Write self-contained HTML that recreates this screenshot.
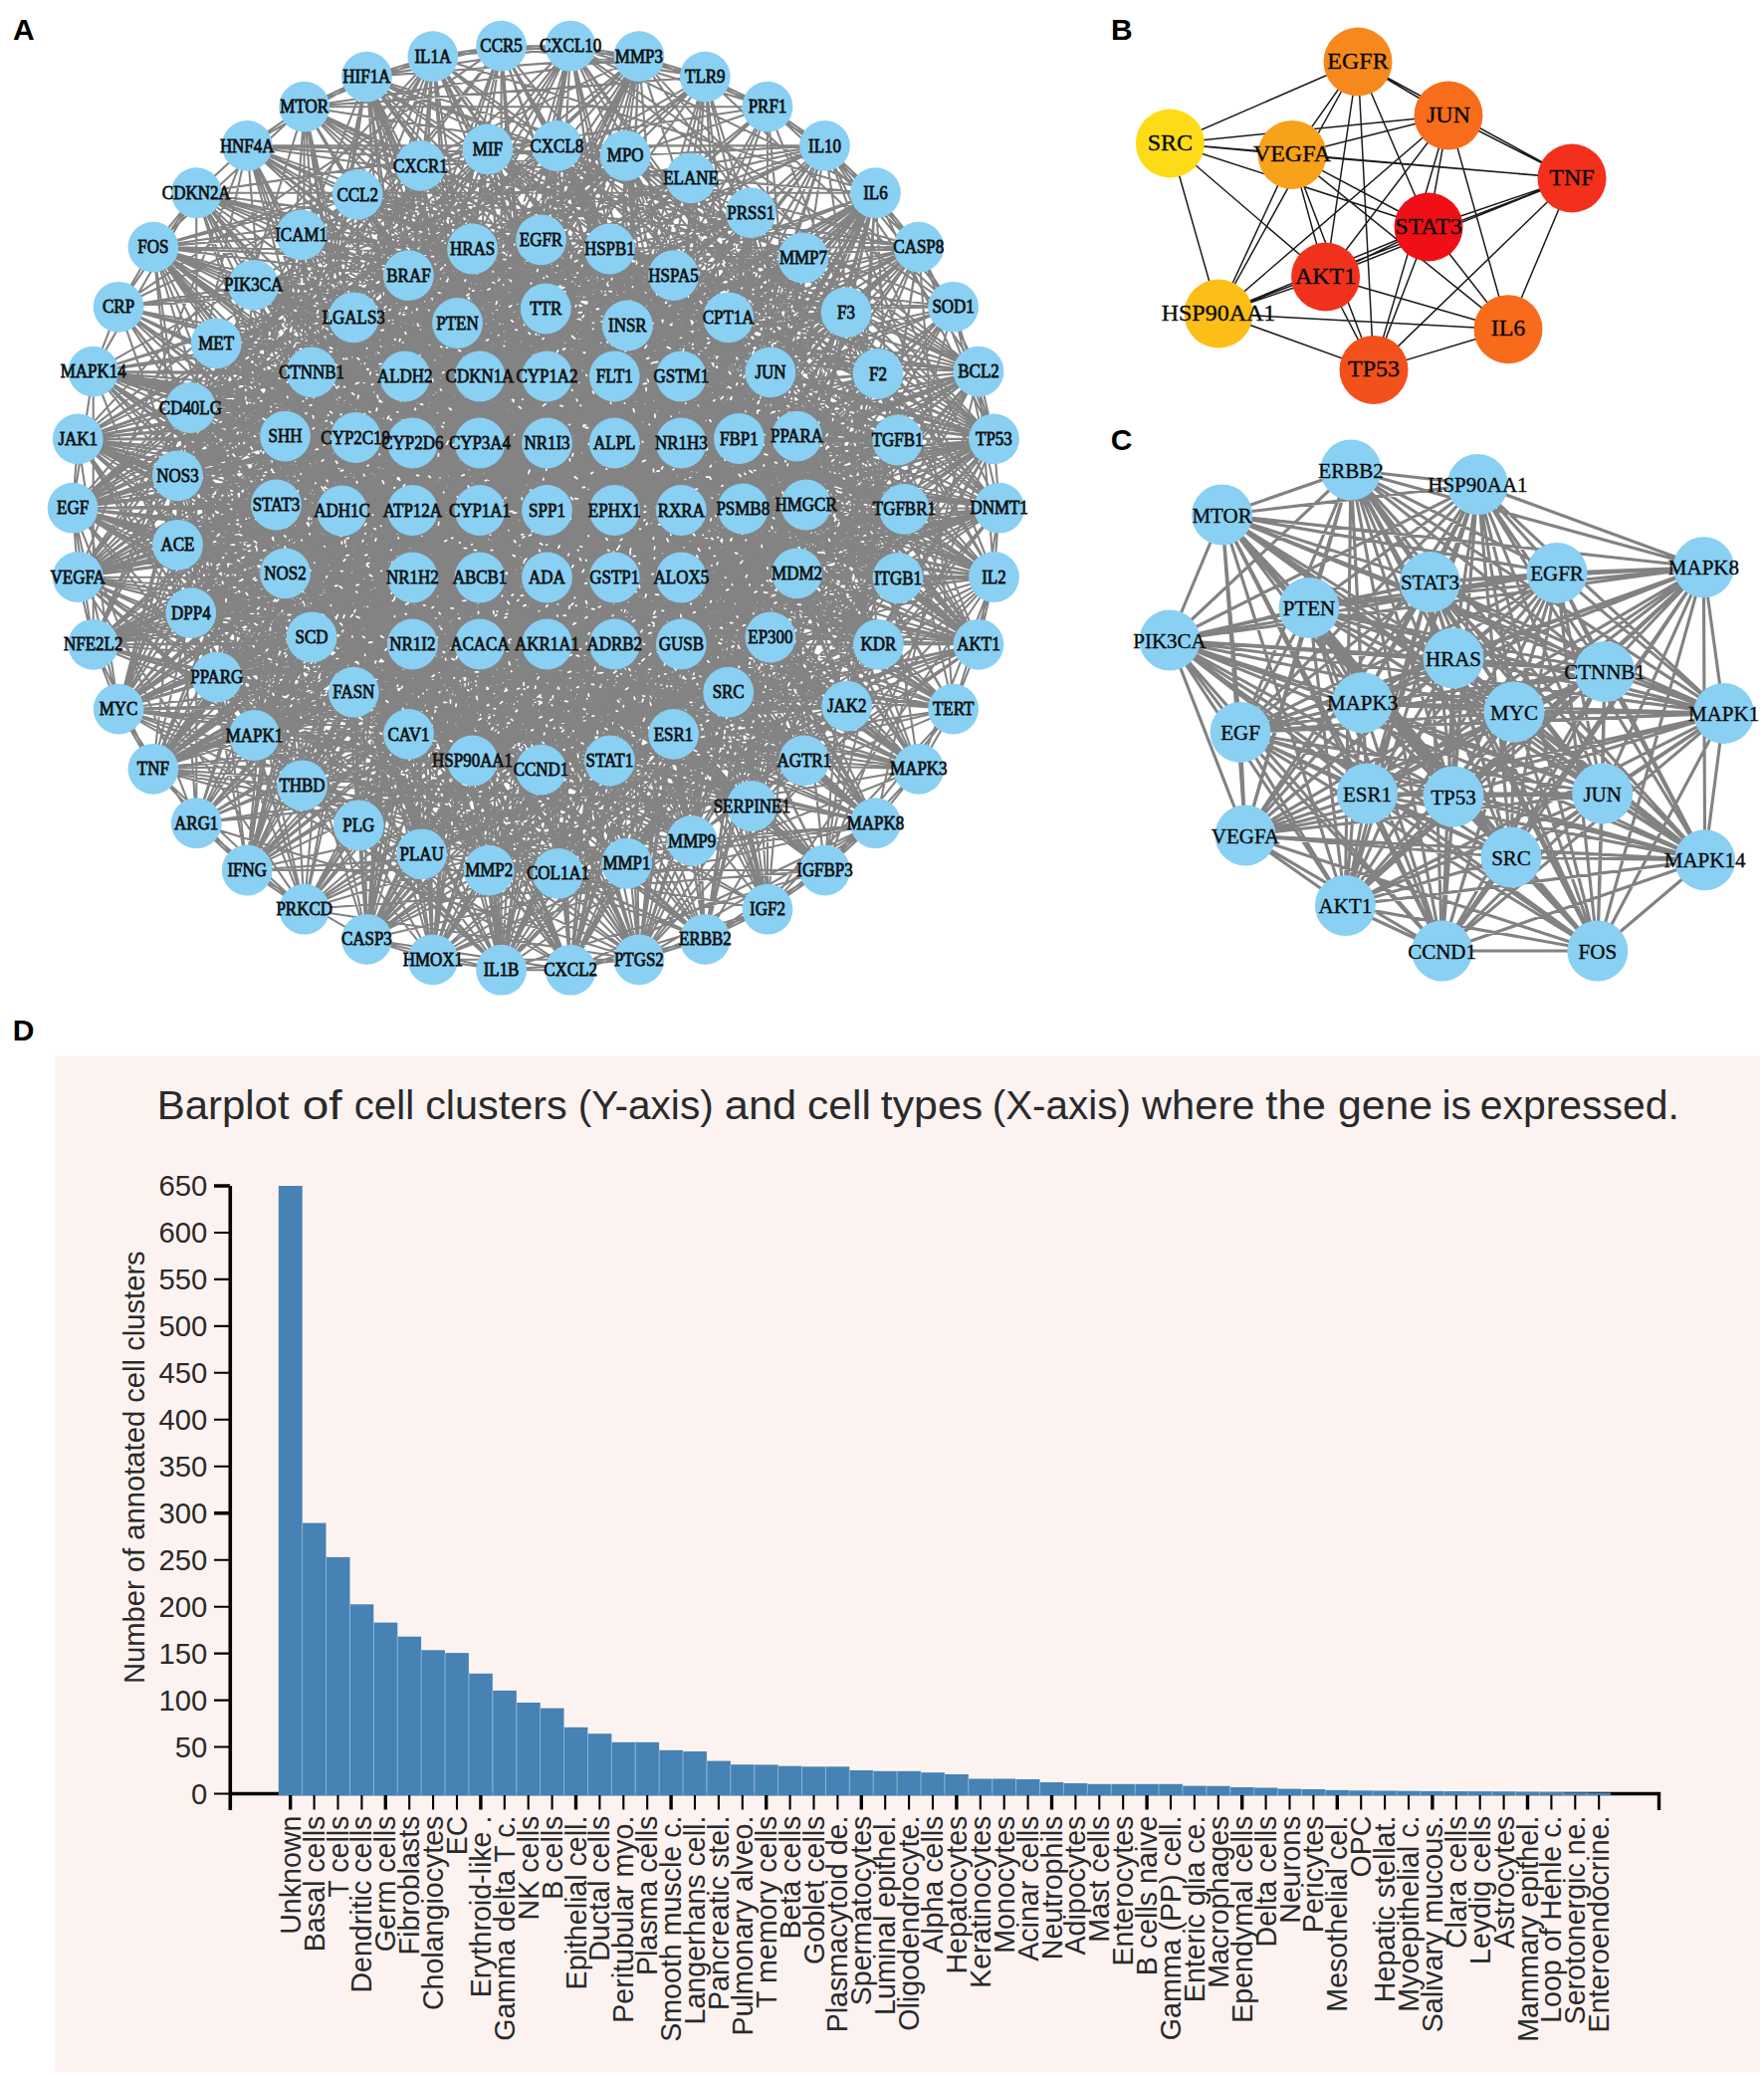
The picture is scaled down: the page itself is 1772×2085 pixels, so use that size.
<!DOCTYPE html>
<html><head><meta charset="utf-8"><title>Figure</title>
<style>html,body{margin:0;padding:0;background:#fff;overflow:hidden;width:1772px;height:2085px;}svg{display:block;}.pl{font-family:"Liberation Sans",Arial,sans-serif;font-weight:bold;font-size:30px;fill:#000;}.la{font-family:"Liberation Serif","Times New Roman",serif;font-size:19.5px;fill:#111;stroke:#111;stroke-width:0.8px;}.lb{font-family:"Liberation Serif","Times New Roman",serif;font-size:24px;fill:#0a0a0a;stroke:#0a0a0a;stroke-width:0.35px;}.lc{font-family:"Liberation Serif","Times New Roman",serif;font-size:21px;fill:#0a0a0a;stroke:#0a0a0a;stroke-width:0.35px;}.dt{font-family:"Liberation Sans",Arial,sans-serif;fill:#2a2a2a;}</style></head><body>
<svg width="1772" height="2085" viewBox="0 0 1772 2085">
<rect width="1772" height="2085" fill="#fff"/>
<text class="pl" x="13" y="40">A</text>
<text class="pl" x="1116" y="40">B</text>
<text class="pl" x="1115.8" y="452.4">C</text>
<text class="pl" x="12.7" y="1045">D</text>
<path fill="none" stroke="#838383" stroke-width="2.1" d="M73.1 510.2L78.2 440.9M73.1 510.2L93.7 373.1M73.1 510.2L573.1 46.2M73.1 510.2L641.9 56.6M73.1 510.2L828.5 146.4M73.1 510.2L922.8 772.3M73.1 510.2L771 913.2M73.1 510.2L503.6 974.2M73.1 510.2L197.3 826.7M73.1 510.2L119.1 712.1M73.1 510.2L93.7 647.3M73.1 510.2L78.2 579.5M73.1 510.2L850.7 709.1M73.1 510.2L807.8 763.9M73.1 510.2L695.1 844.4M73.1 510.2L303.5 788.8M73.1 510.2L178.5 547.3M73.1 510.2L178.4 477.8M73.1 510.2L191.4 409.5M73.1 510.2L217.2 344.8M73.1 510.2L489.9 149.9M73.1 510.2L559.4 146.5M73.1 510.2L628.2 156.3M73.1 510.2L754.3 213.6M73.1 510.2L806.9 259M73.1 510.2L809.6 507M73.1 510.2L800.5 575.9M73.1 510.2L676.6 737.4M73.1 510.2L612.4 764M73.1 510.2L474.6 764M73.1 510.2L286.5 575.9M73.1 510.2L277.4 507M73.1 510.2L286.5 438.1M73.1 510.2L313.1 373.9M73.1 510.2L474.6 250M73.1 510.2L612.4 250M73.1 510.2L746.3 511M73.1 510.2L459.5 324.5M73.1 510.2L630.3 327M73.1 510.2L549.5 378M73.1 510.2L684.3 378M73.1 510.2L482 445M73.1 510.2L549.5 445M73.1 510.2L617.3 445M73.1 510.2L482 512.5M73.1 510.2L617.3 512.5M73.1 510.2L684.3 512.5M73.1 510.2L617.3 580M73.1 510.2L684.3 580M73.1 510.2L549.5 647M73.1 510.2L617.3 647M78.2 440.9L434.8 56.6M78.2 440.9L708.3 77.1M78.2 440.9L708.3 943.3M78.2 440.9L119.1 712.1M78.2 440.9L882.4 647.3M78.2 440.9L850.7 709.1M78.2 440.9L807.8 763.9M78.2 440.9L755.3 809.5M78.2 440.9L560.6 877.3M78.2 440.9L360.3 829M78.2 440.9L303.5 788.8M78.2 440.9L255.5 738.5M78.2 440.9L191.8 615.6M78.2 440.9L422.4 166.4M78.2 440.9L559.4 146.5M78.2 440.9L754.3 213.6M78.2 440.9L850 313.6M78.2 440.9L882 375.4M78.2 440.9L809.6 507M78.2 440.9L800.5 575.9M78.2 440.9L773.9 640M78.2 440.9L676.6 737.4M78.2 440.9L410.5 737.4M78.2 440.9L286.5 575.9M78.2 440.9L410.4 276.6M78.2 440.9L612.4 250M78.2 440.9L731.7 318.8M78.2 440.9L773.9 373.9M78.2 440.9L800.5 438.1M78.2 440.9L357.2 439.5M78.2 440.9L548.2 310M78.2 440.9L549.5 445M78.2 440.9L617.3 512.5M78.2 440.9L414.4 580M78.2 440.9L482 647M78.2 440.9L617.3 647M93.7 373.1L119.1 308.3M93.7 373.1L197.3 193.7M93.7 373.1L1003.7 510.2M93.7 373.1L998.5 579.5M93.7 373.1L708.3 943.3M93.7 373.1L305.7 913.2M93.7 373.1L93.7 647.3M93.7 373.1L908.4 511.3M93.7 373.1L755.3 809.5M93.7 373.1L629.5 867.2M93.7 373.1L489.9 149.9M93.7 373.1L694 178.9M93.7 373.1L901.7 442M93.7 373.1L809.6 507M93.7 373.1L800.5 575.9M93.7 373.1L676.6 737.4M93.7 373.1L612.4 764M93.7 373.1L474.6 764M93.7 373.1L355.3 695.2M93.7 373.1L277.4 507M93.7 373.1L286.5 438.1M93.7 373.1L313.1 373.9M93.7 373.1L410.4 276.6M93.7 373.1L676.6 276.6M93.7 373.1L357.2 439.5M93.7 373.1L746.3 511M93.7 373.1L459.5 324.5M93.7 373.1L406.7 378M93.7 373.1L617.3 378M93.7 373.1L414.4 445M93.7 373.1L482 445M93.7 373.1L617.3 445M93.7 373.1L482 512.5M93.7 373.1L617.3 512.5M93.7 373.1L549.5 580M119.1 308.3L153.9 248.1M119.1 308.3L197.3 193.7M119.1 308.3L503.6 46.2M119.1 308.3L641.9 56.6M119.1 308.3L922.8 248.1M119.1 308.3L695.1 844.4M119.1 308.3L560.6 877.3M119.1 308.3L491.2 874.1M119.1 308.3L178.4 477.8M119.1 308.3L773.9 640M119.1 308.3L676.6 737.4M119.1 308.3L474.6 764M119.1 308.3L277.4 507M119.1 308.3L474.6 250M119.1 308.3L612.4 250M119.1 308.3L800.5 438.1M119.1 308.3L414.4 445M119.1 308.3L617.3 445M119.1 308.3L684.3 445M119.1 308.3L414.4 512.5M119.1 308.3L549.5 512.5M119.1 308.3L549.5 647M153.9 248.1L197.3 193.7M153.9 248.1L305.7 107.2M153.9 248.1L828.5 146.4M153.9 248.1L708.3 943.3M153.9 248.1L641.9 963.8M153.9 248.1L368.4 943.3M153.9 248.1L908.4 511.3M153.9 248.1L901.9 580.5M153.9 248.1L807.8 763.9M153.9 248.1L217.8 680.1M153.9 248.1L191.8 615.6M153.9 248.1L302.6 235.9M153.9 248.1L359.1 195.4M153.9 248.1L489.9 149.9M153.9 248.1L806.9 259M153.9 248.1L773.9 640M153.9 248.1L612.4 764M153.9 248.1L543.5 773.1M153.9 248.1L410.5 737.4M153.9 248.1L286.5 575.9M153.9 248.1L676.6 276.6M153.9 248.1L731.7 318.8M153.9 248.1L482 378M153.9 248.1L549.5 378M153.9 248.1L617.3 378M153.9 248.1L414.4 445M153.9 248.1L414.4 512.5M153.9 248.1L684.3 512.5M153.9 248.1L549.5 580M153.9 248.1L617.3 580M153.9 248.1L482 647M197.3 193.7L248.2 146.4M197.3 193.7L771 107.2M197.3 193.7L879.4 193.7M197.3 193.7L983 373.1M197.3 193.7L998.5 440.9M197.3 193.7L771 913.2M197.3 193.7L641.9 963.8M197.3 193.7L573.1 974.2M197.3 193.7L197.3 826.7M197.3 193.7L755.3 809.5M197.3 193.7L629.5 867.2M197.3 193.7L489.9 149.9M197.3 193.7L882 375.4M197.3 193.7L355.3 695.2M197.3 193.7L286.5 438.1M197.3 193.7L543.5 240.9M197.3 193.7L549.5 378M197.3 193.7L617.3 378M197.3 193.7L684.3 378M197.3 193.7L414.4 445M197.3 193.7L549.5 445M197.3 193.7L684.3 647M248.2 146.4L305.7 107.2M248.2 146.4L368.4 77.1M248.2 146.4L828.5 146.4M248.2 146.4L922.8 248.1M248.2 146.4L922.8 772.3M248.2 146.4L641.9 963.8M248.2 146.4L573.1 974.2M248.2 146.4L78.2 579.5M248.2 146.4L901.9 580.5M248.2 146.4L629.5 867.2M248.2 146.4L491.2 874.1M248.2 146.4L303.5 788.8M248.2 146.4L191.4 409.5M248.2 146.4L628.2 156.3M248.2 146.4L694 178.9M248.2 146.4L882 375.4M248.2 146.4L800.5 575.9M248.2 146.4L543.5 773.1M248.2 146.4L410.5 737.4M248.2 146.4L773.9 373.9M248.2 146.4L742.4 440.5M248.2 146.4L630.3 327M248.2 146.4L617.3 445M305.7 107.2L368.4 77.1M305.7 107.2L434.8 56.6M305.7 107.2L641.9 56.6M305.7 107.2L708.3 77.1M305.7 107.2L771 107.2M305.7 107.2L503.6 974.2M305.7 107.2L434.8 963.8M305.7 107.2L368.4 943.3M305.7 107.2L119.1 712.1M305.7 107.2L303.5 788.8M305.7 107.2L359.1 195.4M305.7 107.2L559.4 146.5M305.7 107.2L901.7 442M305.7 107.2L410.5 737.4M305.7 107.2L277.4 507M305.7 107.2L410.4 276.6M305.7 107.2L676.6 276.6M305.7 107.2L731.7 318.8M305.7 107.2L773.9 373.9M305.7 107.2L800.5 438.1M305.7 107.2L746.3 511M305.7 107.2L742.4 440.5M305.7 107.2L549.5 512.5M305.7 107.2L684.3 512.5M305.7 107.2L414.4 647M305.7 107.2L617.3 647M368.4 77.1L434.8 56.6M368.4 77.1L503.6 46.2M368.4 77.1L573.1 46.2M368.4 77.1L641.9 56.6M368.4 77.1L957.6 308.3M368.4 77.1L983 373.1M368.4 77.1L641.9 963.8M368.4 77.1L503.6 974.2M368.4 77.1L248.2 874M368.4 77.1L119.1 712.1M368.4 77.1L850.7 709.1M368.4 77.1L695.1 844.4M368.4 77.1L423.6 857.8M368.4 77.1L255.5 738.5M368.4 77.1L628.2 156.3M368.4 77.1L806.9 259M368.4 77.1L809.6 507M368.4 77.1L612.4 764M368.4 77.1L543.5 773.1M368.4 77.1L277.4 507M368.4 77.1L731.7 318.8M368.4 77.1L773.9 373.9M368.4 77.1L548.2 310M368.4 77.1L482 378M368.4 77.1L414.4 445M368.4 77.1L549.5 445M368.4 77.1L684.3 445M368.4 77.1L549.5 512.5M368.4 77.1L684.3 512.5M368.4 77.1L482 580M368.4 77.1L617.3 647M434.8 56.6L503.6 46.2M434.8 56.6L573.1 46.2M434.8 56.6L879.4 193.7M434.8 56.6L1003.7 510.2M434.8 56.6L922.8 772.3M434.8 56.6L828.5 874M434.8 56.6L503.6 974.2M434.8 56.6L153.9 772.3M434.8 56.6L807.8 763.9M434.8 56.6L360.3 829M434.8 56.6L255.5 738.5M434.8 56.6L178.4 477.8M434.8 56.6L302.6 235.9M434.8 56.6L359.1 195.4M434.8 56.6L559.4 146.5M434.8 56.6L800.5 575.9M434.8 56.6L543.5 773.1M434.8 56.6L343.5 513M434.8 56.6L742.4 440.5M434.8 56.6L406.7 378M434.8 56.6L414.4 445M434.8 56.6L617.3 445M434.8 56.6L482 512.5M434.8 56.6L617.3 512.5M503.6 46.2L573.1 46.2M503.6 46.2L641.9 56.6M503.6 46.2L708.3 77.1M503.6 46.2L983 647.3M503.6 46.2L922.8 772.3M503.6 46.2L573.1 974.2M503.6 46.2L503.6 974.2M503.6 46.2L78.2 579.5M503.6 46.2L178.4 477.8M503.6 46.2L731.7 695.2M503.6 46.2L543.5 773.1M503.6 46.2L313.1 640M503.6 46.2L357.2 439.5M503.6 46.2L746.3 511M503.6 46.2L617.3 378M503.6 46.2L684.3 378M503.6 46.2L414.4 445M503.6 46.2L549.5 580M503.6 46.2L414.4 647M573.1 46.2L641.9 56.6M573.1 46.2L708.3 77.1M573.1 46.2L771 107.2M573.1 46.2L879.4 193.7M573.1 46.2L957.6 308.3M573.1 46.2L983 373.1M573.1 46.2L983 647.3M573.1 46.2L957.6 712.1M573.1 46.2L434.8 963.8M573.1 46.2L368.4 943.3M573.1 46.2L153.9 772.3M573.1 46.2L908.4 511.3M573.1 46.2L695.1 844.4M573.1 46.2L423.6 857.8M573.1 46.2L191.8 615.6M573.1 46.2L731.7 695.2M573.1 46.2L676.6 737.4M573.1 46.2L313.1 373.9M573.1 46.2L474.6 250M573.1 46.2L543.5 240.9M573.1 46.2L676.6 276.6M573.1 46.2L630.3 327M573.1 46.2L482 445M573.1 46.2L549.5 512.5M573.1 46.2L414.4 580M573.1 46.2L482 580M641.9 56.6L708.3 77.1M641.9 56.6L771 107.2M641.9 56.6L998.5 440.9M641.9 56.6L197.3 826.7M641.9 56.6L153.9 772.3M641.9 56.6L850.7 709.1M641.9 56.6L628.2 156.3M641.9 56.6L754.3 213.6M641.9 56.6L355.3 695.2M641.9 56.6L355.3 318.8M641.9 56.6L410.4 276.6M641.9 56.6L474.6 250M641.9 56.6L543.5 240.9M641.9 56.6L548.2 310M641.9 56.6L482 378M641.9 56.6L549.5 512.5M641.9 56.6L414.4 580M641.9 56.6L617.3 580M641.9 56.6L684.3 580M641.9 56.6L482 647M641.9 56.6L617.3 647M708.3 77.1L771 107.2M708.3 77.1L828.5 146.4M708.3 77.1L957.6 308.3M708.3 77.1L503.6 974.2M708.3 77.1L882.4 647.3M708.3 77.1L755.3 809.5M708.3 77.1L178.4 477.8M708.3 77.1L694 178.9M708.3 77.1L809.6 507M708.3 77.1L773.9 640M708.3 77.1L313.1 640M708.3 77.1L277.4 507M708.3 77.1L286.5 438.1M708.3 77.1L630.3 327M708.3 77.1L684.3 445M771 107.2L828.5 146.4M771 107.2L879.4 193.7M771 107.2L922.8 248.1M771 107.2L983 647.3M771 107.2L771 913.2M771 107.2L360.3 829M771 107.2L254.7 286.3M771 107.2L694 178.9M771 107.2L800.5 438.1M771 107.2L357.2 439.5M771 107.2L548.2 310M771 107.2L617.3 445M771 107.2L617.3 580M828.5 146.4L879.4 193.7M828.5 146.4L922.8 248.1M828.5 146.4L957.6 308.3M828.5 146.4L983 373.1M828.5 146.4L1003.7 510.2M828.5 146.4L998.5 579.5M828.5 146.4L922.8 772.3M828.5 146.4L708.3 943.3M828.5 146.4L573.1 974.2M828.5 146.4L248.2 874M828.5 146.4L491.2 874.1M828.5 146.4L254.7 286.3M828.5 146.4L422.4 166.4M828.5 146.4L559.4 146.5M828.5 146.4L474.6 764M828.5 146.4L313.1 373.9M828.5 146.4L355.3 318.8M828.5 146.4L612.4 250M828.5 146.4L676.6 276.6M828.5 146.4L459.5 324.5M828.5 146.4L482 512.5M828.5 146.4L549.5 512.5M828.5 146.4L617.3 512.5M828.5 146.4L414.4 580M828.5 146.4L684.3 580M879.4 193.7L922.8 248.1M879.4 193.7L957.6 308.3M879.4 193.7L998.5 440.9M879.4 193.7L828.5 874M879.4 193.7L708.3 943.3M879.4 193.7L641.9 963.8M879.4 193.7L503.6 974.2M879.4 193.7L305.7 913.2M879.4 193.7L248.2 874M879.4 193.7L197.3 826.7M879.4 193.7L93.7 647.3M879.4 193.7L901.9 580.5M879.4 193.7L850.7 709.1M879.4 193.7L695.1 844.4M879.4 193.7L491.2 874.1M879.4 193.7L423.6 857.8M879.4 193.7L217.8 680.1M879.4 193.7L694 178.9M879.4 193.7L809.6 507M879.4 193.7L773.9 640M879.4 193.7L612.4 764M879.4 193.7L355.3 695.2M879.4 193.7L731.7 318.8M879.4 193.7L773.9 373.9M879.4 193.7L746.3 511M879.4 193.7L548.2 310M879.4 193.7L406.7 378M879.4 193.7L549.5 378M879.4 193.7L617.3 378M879.4 193.7L414.4 445M879.4 193.7L482 445M879.4 193.7L684.3 512.5M879.4 193.7L684.3 580M879.4 193.7L414.4 647M879.4 193.7L482 647M879.4 193.7L617.3 647M922.8 248.1L983 373.1M922.8 248.1L998.5 440.9M922.8 248.1L957.6 712.1M922.8 248.1L828.5 874M922.8 248.1L573.1 974.2M922.8 248.1L434.8 963.8M922.8 248.1L850.7 709.1M922.8 248.1L695.1 844.4M922.8 248.1L491.2 874.1M922.8 248.1L191.8 615.6M922.8 248.1L359.1 195.4M922.8 248.1L559.4 146.5M922.8 248.1L286.5 575.9M922.8 248.1L313.1 373.9M922.8 248.1L474.6 250M922.8 248.1L731.7 318.8M922.8 248.1L630.3 327M922.8 248.1L482 445M922.8 248.1L684.3 445M922.8 248.1L414.4 580M922.8 248.1L549.5 580M922.8 248.1L617.3 580M922.8 248.1L414.4 647M922.8 248.1L482 647M922.8 248.1L617.3 647M957.6 308.3L998.5 440.9M957.6 308.3L1003.7 510.2M957.6 308.3L850.7 709.1M957.6 308.3L560.6 877.3M957.6 308.3L254.7 286.3M957.6 308.3L731.7 695.2M957.6 308.3L355.3 318.8M957.6 308.3L474.6 250M957.6 308.3L800.5 438.1M957.6 308.3L357.2 439.5M957.6 308.3L746.3 511M957.6 308.3L549.5 445M957.6 308.3L617.3 445M957.6 308.3L684.3 580M957.6 308.3L684.3 647M983 373.1L998.5 440.9M983 373.1L998.5 579.5M983 373.1L879.4 826.7M983 373.1L119.1 712.1M983 373.1L755.3 809.5M983 373.1L695.1 844.4M983 373.1L629.5 867.2M983 373.1L560.6 877.3M983 373.1L217.2 344.8M983 373.1L489.9 149.9M983 373.1L559.4 146.5M983 373.1L628.2 156.3M983 373.1L754.3 213.6M983 373.1L809.6 507M983 373.1L800.5 575.9M983 373.1L355.3 695.2M983 373.1L313.1 640M983 373.1L286.5 438.1M983 373.1L612.4 250M983 373.1L800.5 438.1M983 373.1L343.5 513M983 373.1L746.3 511M983 373.1L459.5 324.5M983 373.1L630.3 327M983 373.1L482 512.5M983 373.1L617.3 512.5M983 373.1L482 580M983 373.1L549.5 647M983 373.1L617.3 647M998.5 440.9L1003.7 510.2M998.5 440.9L828.5 874M998.5 440.9L708.3 943.3M998.5 440.9L503.6 974.2M998.5 440.9L305.7 913.2M998.5 440.9L882.4 647.3M998.5 440.9L807.8 763.9M998.5 440.9L695.1 844.4M998.5 440.9L629.5 867.2M998.5 440.9L360.3 829M998.5 440.9L303.5 788.8M998.5 440.9L217.2 344.8M998.5 440.9L302.6 235.9M998.5 440.9L422.4 166.4M998.5 440.9L489.9 149.9M998.5 440.9L559.4 146.5M998.5 440.9L628.2 156.3M998.5 440.9L694 178.9M998.5 440.9L806.9 259M998.5 440.9L800.5 575.9M998.5 440.9L612.4 764M998.5 440.9L543.5 773.1M998.5 440.9L474.6 764M998.5 440.9L410.5 737.4M998.5 440.9L313.1 640M998.5 440.9L277.4 507M998.5 440.9L286.5 438.1M998.5 440.9L410.4 276.6M998.5 440.9L474.6 250M998.5 440.9L731.7 318.8M998.5 440.9L773.9 373.9M998.5 440.9L746.3 511M998.5 440.9L459.5 324.5M998.5 440.9L482 378M998.5 440.9L549.5 378M998.5 440.9L482 512.5M998.5 440.9L617.3 512.5M998.5 440.9L684.3 512.5M998.5 440.9L414.4 580M998.5 440.9L617.3 580M998.5 440.9L684.3 580M1003.7 510.2L998.5 579.5M1003.7 510.2L983 647.3M1003.7 510.2L641.9 963.8M1003.7 510.2L305.7 913.2M1003.7 510.2L248.2 874M1003.7 510.2L93.7 647.3M1003.7 510.2L882.4 647.3M1003.7 510.2L302.6 235.9M1003.7 510.2L489.9 149.9M1003.7 510.2L628.2 156.3M1003.7 510.2L694 178.9M1003.7 510.2L806.9 259M1003.7 510.2L882 375.4M1003.7 510.2L800.5 575.9M1003.7 510.2L731.7 695.2M1003.7 510.2L474.6 764M1003.7 510.2L410.5 737.4M1003.7 510.2L355.3 695.2M1003.7 510.2L286.5 575.9M1003.7 510.2L742.4 440.5M1003.7 510.2L630.3 327M1003.7 510.2L414.4 445M1003.7 510.2L549.5 445M1003.7 510.2L617.3 445M1003.7 510.2L684.3 445M1003.7 510.2L482 512.5M1003.7 510.2L549.5 580M1003.7 510.2L684.3 580M1003.7 510.2L414.4 647M1003.7 510.2L482 647M1003.7 510.2L617.3 647M998.5 579.5L983 647.3M998.5 579.5L957.6 712.1M998.5 579.5L922.8 772.3M998.5 579.5L771 913.2M998.5 579.5L641.9 963.8M998.5 579.5L901.9 580.5M998.5 579.5L850.7 709.1M998.5 579.5L560.6 877.3M998.5 579.5L303.5 788.8M998.5 579.5L217.8 680.1M998.5 579.5L191.8 615.6M998.5 579.5L359.1 195.4M998.5 579.5L628.2 156.3M998.5 579.5L806.9 259M998.5 579.5L850 313.6M998.5 579.5L800.5 575.9M998.5 579.5L676.6 737.4M998.5 579.5L277.4 507M998.5 579.5L355.3 318.8M998.5 579.5L474.6 250M998.5 579.5L612.4 250M998.5 579.5L676.6 276.6M998.5 579.5L731.7 318.8M998.5 579.5L343.5 513M998.5 579.5L459.5 324.5M998.5 579.5L630.3 327M998.5 579.5L406.7 378M998.5 579.5L549.5 378M998.5 579.5L617.3 378M998.5 579.5L482 512.5M998.5 579.5L684.3 512.5M998.5 579.5L414.4 580M998.5 579.5L414.4 647M983 647.3L957.6 712.1M983 647.3L901.9 580.5M983 647.3L882.4 647.3M983 647.3L850.7 709.1M983 647.3L807.8 763.9M983 647.3L755.3 809.5M983 647.3L491.2 874.1M983 647.3L423.6 857.8M983 647.3L303.5 788.8M983 647.3L191.8 615.6M983 647.3L178.4 477.8M983 647.3L191.4 409.5M983 647.3L694 178.9M983 647.3L754.3 213.6M983 647.3L809.6 507M983 647.3L800.5 575.9M983 647.3L773.9 640M983 647.3L676.6 737.4M983 647.3L612.4 764M983 647.3L474.6 764M983 647.3L286.5 575.9M983 647.3L277.4 507M983 647.3L313.1 373.9M983 647.3L410.4 276.6M983 647.3L474.6 250M983 647.3L543.5 240.9M983 647.3L612.4 250M983 647.3L676.6 276.6M983 647.3L800.5 438.1M983 647.3L742.4 440.5M983 647.3L459.5 324.5M983 647.3L406.7 378M983 647.3L549.5 378M983 647.3L617.3 378M983 647.3L482 445M983 647.3L549.5 445M983 647.3L414.4 512.5M983 647.3L549.5 580M983 647.3L684.3 580M983 647.3L414.4 647M983 647.3L617.3 647M983 647.3L684.3 647M957.6 712.1L922.8 772.3M957.6 712.1L828.5 874M957.6 712.1L771 913.2M957.6 712.1L248.2 874M957.6 712.1L197.3 826.7M957.6 712.1L78.2 579.5M957.6 712.1L882.4 647.3M957.6 712.1L560.6 877.3M957.6 712.1L178.5 547.3M957.6 712.1L628.2 156.3M957.6 712.1L882 375.4M957.6 712.1L773.9 640M957.6 712.1L731.7 695.2M957.6 712.1L612.4 764M957.6 712.1L355.3 318.8M957.6 712.1L548.2 310M957.6 712.1L482 378M957.6 712.1L549.5 378M957.6 712.1L482 445M957.6 712.1L617.3 512.5M957.6 712.1L549.5 580M957.6 712.1L482 647M957.6 712.1L549.5 647M922.8 772.3L879.4 826.7M922.8 772.3L828.5 874M922.8 772.3L434.8 963.8M922.8 772.3L119.1 712.1M922.8 772.3L423.6 857.8M922.8 772.3L191.8 615.6M922.8 772.3L178.5 547.3M922.8 772.3L559.4 146.5M922.8 772.3L628.2 156.3M922.8 772.3L676.6 737.4M922.8 772.3L612.4 764M922.8 772.3L286.5 575.9M922.8 772.3L286.5 438.1M922.8 772.3L800.5 438.1M922.8 772.3L343.5 513M922.8 772.3L630.3 327M922.8 772.3L549.5 378M922.8 772.3L482 445M922.8 772.3L617.3 445M922.8 772.3L414.4 512.5M922.8 772.3L549.5 512.5M922.8 772.3L617.3 512.5M922.8 772.3L482 580M922.8 772.3L549.5 580M922.8 772.3L684.3 580M922.8 772.3L414.4 647M879.4 826.7L828.5 874M879.4 826.7L771 913.2M879.4 826.7L708.3 943.3M879.4 826.7L641.9 963.8M879.4 826.7L573.1 974.2M879.4 826.7L368.4 943.3M879.4 826.7L93.7 647.3M879.4 826.7L695.1 844.4M879.4 826.7L629.5 867.2M879.4 826.7L491.2 874.1M879.4 826.7L178.5 547.3M879.4 826.7L178.4 477.8M879.4 826.7L217.2 344.8M879.4 826.7L254.7 286.3M879.4 826.7L489.9 149.9M879.4 826.7L559.4 146.5M879.4 826.7L676.6 737.4M879.4 826.7L410.5 737.4M879.4 826.7L355.3 695.2M879.4 826.7L474.6 250M879.4 826.7L459.5 324.5M879.4 826.7L406.7 378M879.4 826.7L549.5 378M879.4 826.7L617.3 378M879.4 826.7L414.4 445M879.4 826.7L482 512.5M879.4 826.7L684.3 512.5M879.4 826.7L617.3 580M879.4 826.7L684.3 647M828.5 874L771 913.2M828.5 874L708.3 943.3M828.5 874L503.6 974.2M828.5 874L305.7 913.2M828.5 874L248.2 874M828.5 874L882.4 647.3M828.5 874L191.4 409.5M828.5 874L217.2 344.8M828.5 874L754.3 213.6M828.5 874L676.6 737.4M828.5 874L286.5 438.1M828.5 874L355.3 318.8M828.5 874L410.4 276.6M828.5 874L773.9 373.9M828.5 874L357.2 439.5M828.5 874L414.4 445M828.5 874L617.3 445M828.5 874L482 580M828.5 874L617.3 580M828.5 874L549.5 647M771 913.2L708.3 943.3M771 913.2L641.9 963.8M771 913.2L573.1 974.2M771 913.2L755.3 809.5M771 913.2L423.6 857.8M771 913.2L559.4 146.5M771 913.2L800.5 575.9M771 913.2L676.6 737.4M771 913.2L474.6 764M771 913.2L474.6 250M771 913.2L543.5 240.9M771 913.2L612.4 250M771 913.2L742.4 440.5M771 913.2L630.3 327M771 913.2L617.3 512.5M771 913.2L684.3 512.5M708.3 943.3L641.9 963.8M708.3 943.3L573.1 974.2M708.3 943.3L560.6 877.3M708.3 943.3L303.5 788.8M708.3 943.3L255.5 738.5M708.3 943.3L178.5 547.3M708.3 943.3L628.2 156.3M708.3 943.3L806.9 259M708.3 943.3L800.5 575.9M708.3 943.3L676.6 737.4M708.3 943.3L286.5 575.9M708.3 943.3L355.3 318.8M708.3 943.3L410.4 276.6M708.3 943.3L474.6 250M708.3 943.3L800.5 438.1M708.3 943.3L357.2 439.5M708.3 943.3L617.3 378M708.3 943.3L684.3 445M641.9 963.8L503.6 974.2M641.9 963.8L434.8 963.8M641.9 963.8L305.7 913.2M641.9 963.8L197.3 826.7M641.9 963.8L119.1 712.1M641.9 963.8L78.2 579.5M641.9 963.8L901.9 580.5M641.9 963.8L191.8 615.6M641.9 963.8L217.2 344.8M641.9 963.8L559.4 146.5M641.9 963.8L628.2 156.3M641.9 963.8L754.3 213.6M641.9 963.8L882 375.4M641.9 963.8L901.7 442M641.9 963.8L731.7 695.2M641.9 963.8L676.6 737.4M641.9 963.8L313.1 640M641.9 963.8L277.4 507M641.9 963.8L286.5 438.1M641.9 963.8L410.4 276.6M641.9 963.8L731.7 318.8M641.9 963.8L343.5 513M641.9 963.8L746.3 511M641.9 963.8L414.4 445M641.9 963.8L549.5 512.5M641.9 963.8L617.3 512.5M641.9 963.8L684.3 512.5M641.9 963.8L684.3 580M641.9 963.8L482 647M641.9 963.8L549.5 647M573.1 974.2L503.6 974.2M573.1 974.2L368.4 943.3M573.1 974.2L119.1 712.1M573.1 974.2L629.5 867.2M573.1 974.2L360.3 829M573.1 974.2L178.4 477.8M573.1 974.2L489.9 149.9M573.1 974.2L754.3 213.6M573.1 974.2L800.5 575.9M573.1 974.2L410.5 737.4M573.1 974.2L355.3 695.2M573.1 974.2L277.4 507M573.1 974.2L286.5 438.1M573.1 974.2L313.1 373.9M573.1 974.2L543.5 240.9M573.1 974.2L800.5 438.1M573.1 974.2L357.2 439.5M573.1 974.2L630.3 327M573.1 974.2L617.3 445M573.1 974.2L684.3 445M573.1 974.2L684.3 580M573.1 974.2L414.4 647M573.1 974.2L549.5 647M573.1 974.2L617.3 647M503.6 974.2L434.8 963.8M503.6 974.2L368.4 943.3M503.6 974.2L78.2 579.5M503.6 974.2L901.9 580.5M503.6 974.2L807.8 763.9M503.6 974.2L303.5 788.8M503.6 974.2L255.5 738.5M503.6 974.2L217.8 680.1M503.6 974.2L178.5 547.3M503.6 974.2L191.4 409.5M503.6 974.2L217.2 344.8M503.6 974.2L422.4 166.4M503.6 974.2L559.4 146.5M503.6 974.2L806.9 259M503.6 974.2L850 313.6M503.6 974.2L809.6 507M503.6 974.2L731.7 695.2M503.6 974.2L355.3 695.2M503.6 974.2L410.4 276.6M503.6 974.2L474.6 250M503.6 974.2L612.4 250M503.6 974.2L746.3 511M503.6 974.2L406.7 378M503.6 974.2L617.3 378M503.6 974.2L684.3 378M503.6 974.2L684.3 580M503.6 974.2L414.4 647M503.6 974.2L549.5 647M434.8 963.8L368.4 943.3M434.8 963.8L901.9 580.5M434.8 963.8L850.7 709.1M434.8 963.8L695.1 844.4M434.8 963.8L491.2 874.1M434.8 963.8L360.3 829M434.8 963.8L255.5 738.5M434.8 963.8L422.4 166.4M434.8 963.8L489.9 149.9M434.8 963.8L559.4 146.5M434.8 963.8L676.6 737.4M434.8 963.8L286.5 438.1M434.8 963.8L410.4 276.6M434.8 963.8L676.6 276.6M434.8 963.8L773.9 373.9M434.8 963.8L343.5 513M434.8 963.8L746.3 511M434.8 963.8L742.4 440.5M434.8 963.8L482 378M434.8 963.8L617.3 378M434.8 963.8L482 445M434.8 963.8L684.3 445M434.8 963.8L482 580M434.8 963.8L549.5 580M434.8 963.8L414.4 647M368.4 943.3L248.2 874M368.4 943.3L882.4 647.3M368.4 943.3L850.7 709.1M368.4 943.3L360.3 829M368.4 943.3L359.1 195.4M368.4 943.3L489.9 149.9M368.4 943.3L809.6 507M368.4 943.3L773.9 640M368.4 943.3L731.7 695.2M368.4 943.3L676.6 737.4M368.4 943.3L474.6 764M368.4 943.3L355.3 695.2M368.4 943.3L277.4 507M368.4 943.3L676.6 276.6M368.4 943.3L731.7 318.8M368.4 943.3L746.3 511M368.4 943.3L742.4 440.5M368.4 943.3L459.5 324.5M368.4 943.3L406.7 378M368.4 943.3L482 378M368.4 943.3L684.3 378M368.4 943.3L414.4 445M368.4 943.3L482 445M368.4 943.3L414.4 512.5M368.4 943.3L617.3 512.5M368.4 943.3L482 580M368.4 943.3L549.5 580M368.4 943.3L617.3 580M368.4 943.3L414.4 647M368.4 943.3L617.3 647M368.4 943.3L684.3 647M305.7 913.2L248.2 874M305.7 913.2L197.3 826.7M305.7 913.2L153.9 772.3M305.7 913.2L78.2 579.5M305.7 913.2L882.4 647.3M305.7 913.2L807.8 763.9M305.7 913.2L360.3 829M305.7 913.2L255.5 738.5M305.7 913.2L178.4 477.8M305.7 913.2L191.4 409.5M305.7 913.2L694 178.9M305.7 913.2L754.3 213.6M305.7 913.2L800.5 575.9M305.7 913.2L676.6 737.4M305.7 913.2L355.3 695.2M305.7 913.2L286.5 575.9M305.7 913.2L355.3 318.8M305.7 913.2L773.9 373.9M305.7 913.2L406.7 378M305.7 913.2L617.3 378M305.7 913.2L617.3 445M305.7 913.2L617.3 647M305.7 913.2L684.3 647M248.2 874L197.3 826.7M248.2 874L153.9 772.3M248.2 874L695.1 844.4M248.2 874L178.4 477.8M248.2 874L191.4 409.5M248.2 874L302.6 235.9M248.2 874L359.1 195.4M248.2 874L422.4 166.4M248.2 874L809.6 507M248.2 874L355.3 695.2M248.2 874L313.1 640M248.2 874L286.5 575.9M248.2 874L286.5 438.1M248.2 874L474.6 250M248.2 874L543.5 240.9M248.2 874L773.9 373.9M248.2 874L548.2 310M248.2 874L406.7 378M248.2 874L482 378M248.2 874L617.3 512.5M248.2 874L684.3 512.5M248.2 874L617.3 580M248.2 874L482 647M248.2 874L617.3 647M197.3 826.7L119.1 712.1M197.3 826.7L908.4 511.3M197.3 826.7L807.8 763.9M197.3 826.7L178.5 547.3M197.3 826.7L422.4 166.4M197.3 826.7L754.3 213.6M197.3 826.7L800.5 575.9M197.3 826.7L612.4 764M197.3 826.7L355.3 318.8M197.3 826.7L474.6 250M197.3 826.7L731.7 318.8M197.3 826.7L548.2 310M197.3 826.7L617.3 378M197.3 826.7L549.5 445M197.3 826.7L414.4 580M197.3 826.7L617.3 580M197.3 826.7L482 647M153.9 772.3L119.1 712.1M153.9 772.3L93.7 647.3M153.9 772.3L850.7 709.1M153.9 772.3L755.3 809.5M153.9 772.3L695.1 844.4M153.9 772.3L629.5 867.2M153.9 772.3L360.3 829M153.9 772.3L191.8 615.6M153.9 772.3L178.5 547.3M153.9 772.3L422.4 166.4M153.9 772.3L628.2 156.3M153.9 772.3L806.9 259M153.9 772.3L901.7 442M153.9 772.3L809.6 507M153.9 772.3L800.5 575.9M153.9 772.3L731.7 695.2M153.9 772.3L474.6 764M153.9 772.3L355.3 695.2M153.9 772.3L313.1 640M153.9 772.3L286.5 438.1M153.9 772.3L313.1 373.9M153.9 772.3L612.4 250M153.9 772.3L800.5 438.1M153.9 772.3L343.5 513M153.9 772.3L746.3 511M153.9 772.3L548.2 310M153.9 772.3L482 378M153.9 772.3L617.3 378M153.9 772.3L414.4 445M153.9 772.3L482 445M153.9 772.3L617.3 445M153.9 772.3L482 512.5M153.9 772.3L617.3 512.5M153.9 772.3L684.3 512.5M153.9 772.3L414.4 580M153.9 772.3L482 580M153.9 772.3L617.3 580M153.9 772.3L684.3 580M119.1 712.1L93.7 647.3M119.1 712.1L850.7 709.1M119.1 712.1L755.3 809.5M119.1 712.1L629.5 867.2M119.1 712.1L560.6 877.3M119.1 712.1L178.5 547.3M119.1 712.1L178.4 477.8M119.1 712.1L217.2 344.8M119.1 712.1L359.1 195.4M119.1 712.1L422.4 166.4M119.1 712.1L489.9 149.9M119.1 712.1L809.6 507M119.1 712.1L731.7 695.2M119.1 712.1L612.4 764M119.1 712.1L543.5 773.1M119.1 712.1L313.1 373.9M119.1 712.1L543.5 240.9M119.1 712.1L612.4 250M119.1 712.1L773.9 373.9M119.1 712.1L800.5 438.1M119.1 712.1L357.2 439.5M119.1 712.1L343.5 513M119.1 712.1L746.3 511M119.1 712.1L742.4 440.5M119.1 712.1L459.5 324.5M119.1 712.1L630.3 327M119.1 712.1L406.7 378M119.1 712.1L482 378M119.1 712.1L549.5 378M119.1 712.1L617.3 378M119.1 712.1L482 445M119.1 712.1L414.4 512.5M119.1 712.1L549.5 512.5M119.1 712.1L617.3 512.5M119.1 712.1L617.3 647M93.7 647.3L78.2 579.5M93.7 647.3L755.3 809.5M93.7 647.3L629.5 867.2M93.7 647.3L178.4 477.8M93.7 647.3L191.4 409.5M93.7 647.3L217.2 344.8M93.7 647.3L254.7 286.3M93.7 647.3L628.2 156.3M93.7 647.3L754.3 213.6M93.7 647.3L800.5 575.9M93.7 647.3L773.9 640M93.7 647.3L731.7 695.2M93.7 647.3L474.6 764M93.7 647.3L410.5 737.4M93.7 647.3L731.7 318.8M93.7 647.3L773.9 373.9M93.7 647.3L357.2 439.5M93.7 647.3L746.3 511M93.7 647.3L406.7 378M93.7 647.3L684.3 378M93.7 647.3L482 445M93.7 647.3L684.3 445M93.7 647.3L414.4 512.5M93.7 647.3L549.5 512.5M93.7 647.3L617.3 512.5M93.7 647.3L414.4 580M93.7 647.3L549.5 580M93.7 647.3L414.4 647M93.7 647.3L482 647M93.7 647.3L684.3 647M78.2 579.5L807.8 763.9M78.2 579.5L560.6 877.3M78.2 579.5L491.2 874.1M78.2 579.5L360.3 829M78.2 579.5L303.5 788.8M78.2 579.5L255.5 738.5M78.2 579.5L178.5 547.3M78.2 579.5L191.4 409.5M78.2 579.5L359.1 195.4M78.2 579.5L489.9 149.9M78.2 579.5L559.4 146.5M78.2 579.5L628.2 156.3M78.2 579.5L773.9 640M78.2 579.5L543.5 773.1M78.2 579.5L474.6 764M78.2 579.5L313.1 640M78.2 579.5L410.4 276.6M78.2 579.5L543.5 240.9M78.2 579.5L676.6 276.6M78.2 579.5L773.9 373.9M78.2 579.5L800.5 438.1M78.2 579.5L357.2 439.5M78.2 579.5L548.2 310M78.2 579.5L406.7 378M78.2 579.5L482 378M78.2 579.5L549.5 378M78.2 579.5L684.3 378M78.2 579.5L414.4 445M78.2 579.5L482 445M78.2 579.5L617.3 445M78.2 579.5L684.3 445M78.2 579.5L414.4 512.5M78.2 579.5L549.5 512.5M78.2 579.5L617.3 512.5M78.2 579.5L482 580M78.2 579.5L414.4 647M78.2 579.5L549.5 647M908.4 511.3L807.8 763.9M908.4 511.3L755.3 809.5M908.4 511.3L255.5 738.5M908.4 511.3L359.1 195.4M908.4 511.3L559.4 146.5M908.4 511.3L901.7 442M908.4 511.3L731.7 695.2M908.4 511.3L612.4 764M908.4 511.3L410.5 737.4M908.4 511.3L313.1 640M908.4 511.3L313.1 373.9M908.4 511.3L410.4 276.6M908.4 511.3L612.4 250M908.4 511.3L800.5 438.1M908.4 511.3L742.4 440.5M908.4 511.3L459.5 324.5M908.4 511.3L630.3 327M908.4 511.3L617.3 378M908.4 511.3L482 445M908.4 511.3L617.3 445M908.4 511.3L684.3 445M908.4 511.3L414.4 512.5M908.4 511.3L482 512.5M908.4 511.3L549.5 512.5M908.4 511.3L617.3 512.5M908.4 511.3L414.4 580M908.4 511.3L549.5 580M908.4 511.3L617.3 580M908.4 511.3L684.3 580M908.4 511.3L414.4 647M908.4 511.3L482 647M908.4 511.3L617.3 647M908.4 511.3L684.3 647M901.9 580.5L178.5 547.3M901.9 580.5L254.7 286.3M901.9 580.5L302.6 235.9M901.9 580.5L694 178.9M901.9 580.5L809.6 507M901.9 580.5L800.5 575.9M901.9 580.5L731.7 695.2M901.9 580.5L676.6 737.4M901.9 580.5L543.5 773.1M901.9 580.5L474.6 764M901.9 580.5L355.3 695.2M901.9 580.5L277.4 507M901.9 580.5L313.1 373.9M901.9 580.5L474.6 250M901.9 580.5L612.4 250M901.9 580.5L773.9 373.9M901.9 580.5L800.5 438.1M901.9 580.5L746.3 511M901.9 580.5L684.3 378M901.9 580.5L414.4 445M901.9 580.5L482 512.5M901.9 580.5L414.4 580M901.9 580.5L482 580M901.9 580.5L684.3 647M882.4 647.3L491.2 874.1M882.4 647.3L423.6 857.8M882.4 647.3L254.7 286.3M882.4 647.3L628.2 156.3M882.4 647.3L694 178.9M882.4 647.3L754.3 213.6M882.4 647.3L850 313.6M882.4 647.3L800.5 575.9M882.4 647.3L612.4 764M882.4 647.3L543.5 773.1M882.4 647.3L410.5 737.4M882.4 647.3L286.5 575.9M882.4 647.3L277.4 507M882.4 647.3L313.1 373.9M882.4 647.3L410.4 276.6M882.4 647.3L474.6 250M882.4 647.3L612.4 250M882.4 647.3L731.7 318.8M882.4 647.3L773.9 373.9M882.4 647.3L746.3 511M882.4 647.3L406.7 378M882.4 647.3L549.5 378M882.4 647.3L684.3 378M882.4 647.3L617.3 445M882.4 647.3L549.5 512.5M882.4 647.3L617.3 512.5M882.4 647.3L684.3 512.5M850.7 709.1L755.3 809.5M850.7 709.1L695.1 844.4M850.7 709.1L255.5 738.5M850.7 709.1L178.5 547.3M850.7 709.1L628.2 156.3M850.7 709.1L800.5 575.9M850.7 709.1L612.4 764M850.7 709.1L313.1 640M850.7 709.1L676.6 276.6M850.7 709.1L406.7 378M850.7 709.1L549.5 378M850.7 709.1L414.4 445M850.7 709.1L482 445M850.7 709.1L549.5 445M850.7 709.1L617.3 445M850.7 709.1L549.5 512.5M850.7 709.1L617.3 580M850.7 709.1L684.3 580M807.8 763.9L560.6 877.3M807.8 763.9L191.4 409.5M807.8 763.9L800.5 575.9M807.8 763.9L773.9 640M807.8 763.9L474.6 764M807.8 763.9L355.3 695.2M807.8 763.9L286.5 575.9M807.8 763.9L612.4 250M807.8 763.9L746.3 511M807.8 763.9L549.5 378M807.8 763.9L482 445M807.8 763.9L549.5 445M807.8 763.9L617.3 512.5M807.8 763.9L549.5 647M807.8 763.9L617.3 647M807.8 763.9L684.3 647M755.3 809.5L303.5 788.8M755.3 809.5L191.8 615.6M755.3 809.5L178.5 547.3M755.3 809.5L559.4 146.5M755.3 809.5L754.3 213.6M755.3 809.5L850 313.6M755.3 809.5L882 375.4M755.3 809.5L901.7 442M755.3 809.5L676.6 737.4M755.3 809.5L286.5 438.1M755.3 809.5L313.1 373.9M755.3 809.5L731.7 318.8M755.3 809.5L773.9 373.9M755.3 809.5L800.5 438.1M755.3 809.5L343.5 513M755.3 809.5L746.3 511M755.3 809.5L684.3 580M755.3 809.5L549.5 647M695.1 844.4L217.8 680.1M695.1 844.4L191.8 615.6M695.1 844.4L754.3 213.6M695.1 844.4L806.9 259M695.1 844.4L850 313.6M695.1 844.4L355.3 695.2M695.1 844.4L286.5 575.9M695.1 844.4L277.4 507M695.1 844.4L286.5 438.1M695.1 844.4L355.3 318.8M695.1 844.4L731.7 318.8M695.1 844.4L773.9 373.9M695.1 844.4L800.5 438.1M695.1 844.4L746.3 511M695.1 844.4L548.2 310M695.1 844.4L549.5 378M695.1 844.4L482 445M695.1 844.4L414.4 512.5M695.1 844.4L549.5 512.5M695.1 844.4L414.4 580M629.5 867.2L255.5 738.5M629.5 867.2L191.4 409.5M629.5 867.2L302.6 235.9M629.5 867.2L901.7 442M629.5 867.2L800.5 575.9M629.5 867.2L676.6 737.4M629.5 867.2L286.5 575.9M629.5 867.2L313.1 373.9M629.5 867.2L355.3 318.8M629.5 867.2L410.4 276.6M629.5 867.2L612.4 250M629.5 867.2L731.7 318.8M629.5 867.2L549.5 378M629.5 867.2L414.4 445M629.5 867.2L549.5 445M629.5 867.2L617.3 445M629.5 867.2L414.4 512.5M629.5 867.2L549.5 512.5M629.5 867.2L684.3 580M560.6 877.3L489.9 149.9M560.6 877.3L773.9 640M560.6 877.3L612.4 764M560.6 877.3L410.5 737.4M560.6 877.3L286.5 438.1M560.6 877.3L355.3 318.8M560.6 877.3L800.5 438.1M560.6 877.3L746.3 511M560.6 877.3L459.5 324.5M560.6 877.3L482 378M560.6 877.3L617.3 378M560.6 877.3L684.3 378M560.6 877.3L549.5 512.5M560.6 877.3L549.5 580M560.6 877.3L684.3 580M491.2 874.1L178.5 547.3M491.2 874.1L882 375.4M491.2 874.1L809.6 507M491.2 874.1L676.6 737.4M491.2 874.1L410.5 737.4M491.2 874.1L286.5 438.1M491.2 874.1L313.1 373.9M491.2 874.1L543.5 240.9M491.2 874.1L731.7 318.8M491.2 874.1L357.2 439.5M491.2 874.1L746.3 511M491.2 874.1L630.3 327M491.2 874.1L684.3 378M491.2 874.1L482 445M491.2 874.1L482 512.5M491.2 874.1L482 580M491.2 874.1L684.3 580M491.2 874.1L482 647M423.6 857.8L303.5 788.8M423.6 857.8L255.5 738.5M423.6 857.8L191.8 615.6M423.6 857.8L191.4 409.5M423.6 857.8L254.7 286.3M423.6 857.8L773.9 640M423.6 857.8L676.6 737.4M423.6 857.8L410.5 737.4M423.6 857.8L355.3 695.2M423.6 857.8L313.1 640M423.6 857.8L286.5 438.1M423.6 857.8L313.1 373.9M423.6 857.8L676.6 276.6M423.6 857.8L731.7 318.8M423.6 857.8L357.2 439.5M423.6 857.8L742.4 440.5M423.6 857.8L406.7 378M360.3 829L474.6 764M360.3 829L410.5 737.4M360.3 829L355.3 695.2M360.3 829L355.3 318.8M360.3 829L474.6 250M360.3 829L800.5 438.1M360.3 829L548.2 310M360.3 829L482 512.5M360.3 829L549.5 512.5M360.3 829L617.3 512.5M360.3 829L414.4 580M360.3 829L617.3 647M360.3 829L684.3 647M303.5 788.8L217.8 680.1M303.5 788.8L178.5 547.3M303.5 788.8L178.4 477.8M303.5 788.8L422.4 166.4M303.5 788.8L850 313.6M303.5 788.8L731.7 695.2M303.5 788.8L474.6 764M303.5 788.8L286.5 575.9M303.5 788.8L474.6 250M303.5 788.8L612.4 250M303.5 788.8L676.6 276.6M303.5 788.8L773.9 373.9M303.5 788.8L549.5 378M303.5 788.8L617.3 378M303.5 788.8L414.4 445M303.5 788.8L482 445M303.5 788.8L549.5 512.5M303.5 788.8L414.4 580M303.5 788.8L482 647M255.5 738.5L178.4 477.8M255.5 738.5L191.4 409.5M255.5 738.5L489.9 149.9M255.5 738.5L559.4 146.5M255.5 738.5L806.9 259M255.5 738.5L800.5 575.9M255.5 738.5L773.9 640M255.5 738.5L676.6 737.4M255.5 738.5L543.5 773.1M255.5 738.5L355.3 695.2M255.5 738.5L313.1 640M255.5 738.5L286.5 575.9M255.5 738.5L277.4 507M255.5 738.5L543.5 240.9M255.5 738.5L612.4 250M255.5 738.5L731.7 318.8M255.5 738.5L773.9 373.9M255.5 738.5L548.2 310M255.5 738.5L630.3 327M255.5 738.5L406.7 378M255.5 738.5L482 378M255.5 738.5L414.4 445M255.5 738.5L549.5 445M255.5 738.5L684.3 445M255.5 738.5L549.5 512.5M255.5 738.5L549.5 580M255.5 738.5L684.3 580M255.5 738.5L617.3 647M217.8 680.1L178.5 547.3M217.8 680.1L254.7 286.3M217.8 680.1L850 313.6M217.8 680.1L809.6 507M217.8 680.1L800.5 575.9M217.8 680.1L773.9 640M217.8 680.1L676.6 737.4M217.8 680.1L313.1 640M217.8 680.1L286.5 575.9M217.8 680.1L286.5 438.1M217.8 680.1L313.1 373.9M217.8 680.1L410.4 276.6M217.8 680.1L612.4 250M217.8 680.1L731.7 318.8M217.8 680.1L343.5 513M217.8 680.1L742.4 440.5M217.8 680.1L548.2 310M217.8 680.1L406.7 378M217.8 680.1L684.3 378M217.8 680.1L617.3 445M217.8 680.1L414.4 512.5M217.8 680.1L482 580M217.8 680.1L414.4 647M217.8 680.1L482 647M217.8 680.1L617.3 647M191.8 615.6L191.4 409.5M191.8 615.6L302.6 235.9M191.8 615.6L422.4 166.4M191.8 615.6L489.9 149.9M191.8 615.6L754.3 213.6M191.8 615.6L806.9 259M191.8 615.6L355.3 695.2M191.8 615.6L313.1 640M191.8 615.6L313.1 373.9M191.8 615.6L355.3 318.8M191.8 615.6L410.4 276.6M191.8 615.6L543.5 240.9M191.8 615.6L676.6 276.6M191.8 615.6L731.7 318.8M191.8 615.6L773.9 373.9M191.8 615.6L746.3 511M191.8 615.6L742.4 440.5M191.8 615.6L548.2 310M191.8 615.6L406.7 378M191.8 615.6L482 378M191.8 615.6L617.3 378M191.8 615.6L684.3 378M191.8 615.6L482 445M191.8 615.6L617.3 445M191.8 615.6L482 512.5M191.8 615.6L549.5 512.5M191.8 615.6L414.4 580M191.8 615.6L549.5 580M191.8 615.6L617.3 647M178.5 547.3L178.4 477.8M178.5 547.3L191.4 409.5M178.5 547.3L850 313.6M178.5 547.3L809.6 507M178.5 547.3L731.7 695.2M178.5 547.3L612.4 764M178.5 547.3L474.6 764M178.5 547.3L474.6 250M178.5 547.3L676.6 276.6M178.5 547.3L773.9 373.9M178.5 547.3L357.2 439.5M178.5 547.3L343.5 513M178.5 547.3L548.2 310M178.5 547.3L630.3 327M178.5 547.3L406.7 378M178.5 547.3L482 378M178.5 547.3L684.3 378M178.5 547.3L414.4 445M178.5 547.3L684.3 445M178.5 547.3L414.4 512.5M178.5 547.3L482 512.5M178.5 547.3L549.5 512.5M178.5 547.3L482 580M178.5 547.3L414.4 647M178.5 547.3L617.3 647M178.4 477.8L302.6 235.9M178.4 477.8L628.2 156.3M178.4 477.8L694 178.9M178.4 477.8L754.3 213.6M178.4 477.8L773.9 640M178.4 477.8L731.7 695.2M178.4 477.8L676.6 737.4M178.4 477.8L612.4 764M178.4 477.8L543.5 773.1M178.4 477.8L355.3 695.2M178.4 477.8L277.4 507M178.4 477.8L355.3 318.8M178.4 477.8L410.4 276.6M178.4 477.8L474.6 250M178.4 477.8L543.5 240.9M178.4 477.8L676.6 276.6M178.4 477.8L773.9 373.9M178.4 477.8L343.5 513M178.4 477.8L742.4 440.5M178.4 477.8L459.5 324.5M178.4 477.8L630.3 327M178.4 477.8L406.7 378M178.4 477.8L482 378M178.4 477.8L617.3 378M178.4 477.8L684.3 378M178.4 477.8L482 445M178.4 477.8L684.3 445M178.4 477.8L414.4 647M178.4 477.8L549.5 647M178.4 477.8L617.3 647M191.4 409.5L422.4 166.4M191.4 409.5L800.5 575.9M191.4 409.5L773.9 640M191.4 409.5L474.6 764M191.4 409.5L410.5 737.4M191.4 409.5L286.5 575.9M191.4 409.5L355.3 318.8M191.4 409.5L474.6 250M191.4 409.5L612.4 250M191.4 409.5L731.7 318.8M191.4 409.5L630.3 327M191.4 409.5L482 378M191.4 409.5L482 512.5M191.4 409.5L549.5 512.5M191.4 409.5L684.3 512.5M191.4 409.5L414.4 580M191.4 409.5L684.3 580M191.4 409.5L414.4 647M191.4 409.5L482 647M217.2 344.8L694 178.9M217.2 344.8L410.5 737.4M217.2 344.8L286.5 575.9M217.2 344.8L410.4 276.6M217.2 344.8L543.5 240.9M217.2 344.8L612.4 250M217.2 344.8L357.2 439.5M217.2 344.8L617.3 445M217.2 344.8L414.4 512.5M217.2 344.8L482 512.5M217.2 344.8L617.3 512.5M217.2 344.8L684.3 512.5M217.2 344.8L414.4 580M217.2 344.8L482 580M217.2 344.8L549.5 580M217.2 344.8L617.3 580M217.2 344.8L684.3 647M254.7 286.3L809.6 507M254.7 286.3L313.1 373.9M254.7 286.3L410.4 276.6M254.7 286.3L357.2 439.5M254.7 286.3L343.5 513M254.7 286.3L746.3 511M254.7 286.3L406.7 378M254.7 286.3L414.4 445M254.7 286.3L684.3 445M254.7 286.3L684.3 512.5M254.7 286.3L549.5 580M254.7 286.3L617.3 580M254.7 286.3L684.3 580M254.7 286.3L684.3 647M302.6 235.9L359.1 195.4M302.6 235.9L901.7 442M302.6 235.9L474.6 764M302.6 235.9L355.3 695.2M302.6 235.9L313.1 373.9M302.6 235.9L474.6 250M302.6 235.9L676.6 276.6M302.6 235.9L742.4 440.5M302.6 235.9L548.2 310M302.6 235.9L406.7 378M302.6 235.9L549.5 378M302.6 235.9L617.3 445M302.6 235.9L414.4 512.5M302.6 235.9L617.3 512.5M302.6 235.9L617.3 580M302.6 235.9L684.3 580M359.1 195.4L800.5 575.9M359.1 195.4L731.7 695.2M359.1 195.4L543.5 773.1M359.1 195.4L543.5 240.9M359.1 195.4L612.4 250M359.1 195.4L731.7 318.8M359.1 195.4L548.2 310M359.1 195.4L617.3 378M359.1 195.4L482 445M359.1 195.4L617.3 445M359.1 195.4L549.5 512.5M359.1 195.4L617.3 580M422.4 166.4L773.9 640M422.4 166.4L731.7 695.2M422.4 166.4L676.6 737.4M422.4 166.4L543.5 773.1M422.4 166.4L286.5 438.1M422.4 166.4L474.6 250M422.4 166.4L406.7 378M422.4 166.4L549.5 378M422.4 166.4L617.3 378M422.4 166.4L684.3 512.5M422.4 166.4L684.3 647M489.9 149.9L628.2 156.3M489.9 149.9L850 313.6M489.9 149.9L731.7 695.2M489.9 149.9L676.6 737.4M489.9 149.9L355.3 318.8M489.9 149.9L543.5 240.9M489.9 149.9L676.6 276.6M489.9 149.9L731.7 318.8M489.9 149.9L773.9 373.9M489.9 149.9L343.5 513M489.9 149.9L742.4 440.5M489.9 149.9L549.5 378M559.4 146.5L628.2 156.3M559.4 146.5L612.4 764M559.4 146.5L474.6 764M559.4 146.5L746.3 511M559.4 146.5L742.4 440.5M559.4 146.5L630.3 327M559.4 146.5L684.3 378M559.4 146.5L684.3 445M559.4 146.5L549.5 512.5M559.4 146.5L549.5 580M628.2 156.3L754.3 213.6M628.2 156.3L731.7 695.2M628.2 156.3L355.3 695.2M628.2 156.3L286.5 575.9M628.2 156.3L277.4 507M628.2 156.3L474.6 250M628.2 156.3L684.3 378M628.2 156.3L617.3 445M628.2 156.3L617.3 580M628.2 156.3L684.3 580M694 178.9L731.7 695.2M694 178.9L676.6 737.4M694 178.9L543.5 773.1M694 178.9L277.4 507M694 178.9L410.4 276.6M694 178.9L742.4 440.5M694 178.9L548.2 310M694 178.9L630.3 327M694 178.9L684.3 378M754.3 213.6L410.5 737.4M754.3 213.6L355.3 318.8M754.3 213.6L742.4 440.5M754.3 213.6L459.5 324.5M754.3 213.6L548.2 310M754.3 213.6L406.7 378M754.3 213.6L414.4 445M754.3 213.6L617.3 445M754.3 213.6L617.3 512.5M754.3 213.6L482 580M754.3 213.6L684.3 580M754.3 213.6L684.3 647M806.9 259L882 375.4M806.9 259L800.5 575.9M806.9 259L731.7 695.2M806.9 259L676.6 737.4M806.9 259L410.5 737.4M806.9 259L355.3 318.8M806.9 259L357.2 439.5M806.9 259L343.5 513M806.9 259L630.3 327M806.9 259L414.4 445M806.9 259L684.3 512.5M806.9 259L414.4 580M806.9 259L482 580M850 313.6L882 375.4M850 313.6L800.5 575.9M850 313.6L474.6 764M850 313.6L313.1 373.9M850 313.6L612.4 250M850 313.6L676.6 276.6M850 313.6L731.7 318.8M850 313.6L746.3 511M850 313.6L482 378M850 313.6L414.4 445M850 313.6L482 445M850 313.6L684.3 445M850 313.6L414.4 580M850 313.6L549.5 647M850 313.6L684.3 647M882 375.4L800.5 575.9M882 375.4L286.5 438.1M882 375.4L474.6 250M882 375.4L676.6 276.6M882 375.4L800.5 438.1M882 375.4L746.3 511M882 375.4L742.4 440.5M882 375.4L459.5 324.5M882 375.4L617.3 445M882 375.4L482 512.5M882 375.4L684.3 512.5M882 375.4L684.3 647M901.7 442L676.6 737.4M901.7 442L286.5 438.1M901.7 442L313.1 373.9M901.7 442L543.5 240.9M901.7 442L612.4 250M901.7 442L357.2 439.5M901.7 442L343.5 513M901.7 442L742.4 440.5M901.7 442L548.2 310M901.7 442L482 378M901.7 442L684.3 378M901.7 442L549.5 445M901.7 442L684.3 445M901.7 442L414.4 512.5M901.7 442L482 512.5M901.7 442L549.5 512.5M901.7 442L414.4 580M901.7 442L482 580M901.7 442L684.3 580M901.7 442L414.4 647M809.6 507L543.5 773.1M809.6 507L355.3 695.2M809.6 507L313.1 373.9M809.6 507L355.3 318.8M809.6 507L474.6 250M809.6 507L800.5 438.1M809.6 507L746.3 511M809.6 507L742.4 440.5M809.6 507L482 378M809.6 507L414.4 445M809.6 507L617.3 512.5M809.6 507L684.3 512.5M809.6 507L617.3 580M809.6 507L684.3 580M809.6 507L482 647M809.6 507L549.5 647M809.6 507L684.3 647M800.5 575.9L731.7 695.2M800.5 575.9L612.4 764M800.5 575.9L355.3 318.8M800.5 575.9L410.4 276.6M800.5 575.9L612.4 250M800.5 575.9L676.6 276.6M800.5 575.9L731.7 318.8M800.5 575.9L773.9 373.9M800.5 575.9L343.5 513M800.5 575.9L548.2 310M800.5 575.9L617.3 378M800.5 575.9L482 445M800.5 575.9L482 512.5M800.5 575.9L482 580M800.5 575.9L549.5 580M800.5 575.9L684.3 647M773.9 640L612.4 764M773.9 640L286.5 438.1M773.9 640L313.1 373.9M773.9 640L343.5 513M773.9 640L746.3 511M773.9 640L459.5 324.5M773.9 640L630.3 327M773.9 640L406.7 378M773.9 640L482 378M773.9 640L549.5 378M773.9 640L684.3 378M773.9 640L414.4 445M773.9 640L617.3 445M773.9 640L684.3 445M773.9 640L414.4 512.5M773.9 640L482 512.5M773.9 640L617.3 512.5M773.9 640L414.4 647M773.9 640L617.3 647M731.7 695.2L410.5 737.4M731.7 695.2L355.3 695.2M731.7 695.2L277.4 507M731.7 695.2L731.7 318.8M731.7 695.2L800.5 438.1M731.7 695.2L742.4 440.5M731.7 695.2L459.5 324.5M731.7 695.2L549.5 378M731.7 695.2L617.3 378M731.7 695.2L549.5 445M731.7 695.2L549.5 580M731.7 695.2L684.3 580M731.7 695.2L482 647M676.6 737.4L355.3 695.2M676.6 737.4L286.5 438.1M676.6 737.4L313.1 373.9M676.6 737.4L355.3 318.8M676.6 737.4L612.4 250M676.6 737.4L676.6 276.6M676.6 737.4L773.9 373.9M676.6 737.4L800.5 438.1M676.6 737.4L414.4 445M676.6 737.4L482 445M676.6 737.4L549.5 445M676.6 737.4L414.4 512.5M676.6 737.4L549.5 580M676.6 737.4L684.3 580M676.6 737.4L414.4 647M676.6 737.4L482 647M676.6 737.4L549.5 647M612.4 764L410.5 737.4M612.4 764L286.5 438.1M612.4 764L313.1 373.9M612.4 764L474.6 250M612.4 764L543.5 240.9M612.4 764L612.4 250M612.4 764L742.4 440.5M612.4 764L459.5 324.5M612.4 764L617.3 378M612.4 764L482 445M612.4 764L617.3 445M612.4 764L482 512.5M612.4 764L414.4 580M612.4 764L482 580M612.4 764L684.3 580M612.4 764L482 647M612.4 764L617.3 647M543.5 773.1L313.1 640M543.5 773.1L286.5 575.9M543.5 773.1L313.1 373.9M543.5 773.1L410.4 276.6M543.5 773.1L773.9 373.9M543.5 773.1L800.5 438.1M543.5 773.1L357.2 439.5M543.5 773.1L746.3 511M543.5 773.1L482 378M543.5 773.1L549.5 378M543.5 773.1L684.3 378M543.5 773.1L617.3 445M543.5 773.1L414.4 512.5M543.5 773.1L482 512.5M543.5 773.1L549.5 512.5M543.5 773.1L684.3 512.5M543.5 773.1L414.4 647M543.5 773.1L549.5 647M474.6 764L286.5 438.1M474.6 764L313.1 373.9M474.6 764L410.4 276.6M474.6 764L543.5 240.9M474.6 764L676.6 276.6M474.6 764L343.5 513M474.6 764L459.5 324.5M474.6 764L406.7 378M474.6 764L482 378M474.6 764L414.4 445M474.6 764L684.3 445M474.6 764L414.4 580M474.6 764L684.3 580M474.6 764L617.3 647M410.5 737.4L355.3 695.2M410.5 737.4L474.6 250M410.5 737.4L800.5 438.1M410.5 737.4L548.2 310M410.5 737.4L406.7 378M410.5 737.4L482 378M410.5 737.4L414.4 445M410.5 737.4L617.3 445M410.5 737.4L482 512.5M410.5 737.4L617.3 512.5M410.5 737.4L549.5 647M410.5 737.4L617.3 647M355.3 695.2L313.1 640M355.3 695.2L277.4 507M355.3 695.2L313.1 373.9M355.3 695.2L612.4 250M355.3 695.2L676.6 276.6M355.3 695.2L357.2 439.5M355.3 695.2L742.4 440.5M355.3 695.2L630.3 327M355.3 695.2L414.4 445M355.3 695.2L482 445M355.3 695.2L617.3 512.5M355.3 695.2L684.3 512.5M355.3 695.2L414.4 580M355.3 695.2L549.5 580M355.3 695.2L482 647M355.3 695.2L549.5 647M355.3 695.2L617.3 647M355.3 695.2L684.3 647M313.1 640L286.5 575.9M313.1 640L355.3 318.8M313.1 640L474.6 250M313.1 640L612.4 250M313.1 640L676.6 276.6M313.1 640L800.5 438.1M313.1 640L482 378M313.1 640L617.3 378M313.1 640L617.3 445M313.1 640L414.4 512.5M313.1 640L482 512.5M313.1 640L482 580M313.1 640L414.4 647M313.1 640L482 647M286.5 575.9L277.4 507M286.5 575.9L286.5 438.1M286.5 575.9L474.6 250M286.5 575.9L543.5 240.9M286.5 575.9L676.6 276.6M286.5 575.9L731.7 318.8M286.5 575.9L343.5 513M286.5 575.9L746.3 511M286.5 575.9L742.4 440.5M286.5 575.9L548.2 310M286.5 575.9L630.3 327M286.5 575.9L549.5 445M286.5 575.9L482 512.5M286.5 575.9L549.5 512.5M286.5 575.9L414.4 580M286.5 575.9L549.5 580M286.5 575.9L617.3 580M286.5 575.9L414.4 647M286.5 575.9L684.3 647M277.4 507L800.5 438.1M277.4 507L357.2 439.5M277.4 507L630.3 327M277.4 507L482 378M277.4 507L414.4 445M277.4 507L549.5 445M277.4 507L414.4 512.5M277.4 507L617.3 512.5M277.4 507L482 580M277.4 507L549.5 580M277.4 507L482 647M277.4 507L684.3 647M286.5 438.1L410.4 276.6M286.5 438.1L543.5 240.9M286.5 438.1L612.4 250M286.5 438.1L676.6 276.6M286.5 438.1L731.7 318.8M286.5 438.1L773.9 373.9M286.5 438.1L357.2 439.5M286.5 438.1L343.5 513M286.5 438.1L746.3 511M286.5 438.1L742.4 440.5M286.5 438.1L482 512.5M286.5 438.1L549.5 512.5M286.5 438.1L617.3 512.5M286.5 438.1L549.5 580M286.5 438.1L617.3 647M313.1 373.9L543.5 240.9M313.1 373.9L612.4 250M313.1 373.9L773.9 373.9M313.1 373.9L800.5 438.1M313.1 373.9L406.7 378M313.1 373.9L684.3 512.5M313.1 373.9L414.4 580M313.1 373.9L617.3 580M313.1 373.9L684.3 580M313.1 373.9L684.3 647M355.3 318.8L800.5 438.1M355.3 318.8L630.3 327M355.3 318.8L482 378M355.3 318.8L549.5 378M355.3 318.8L617.3 378M355.3 318.8L414.4 445M355.3 318.8L684.3 445M355.3 318.8L617.3 512.5M355.3 318.8L482 580M355.3 318.8L684.3 580M355.3 318.8L482 647M355.3 318.8L617.3 647M355.3 318.8L684.3 647M410.4 276.6L612.4 250M410.4 276.6L676.6 276.6M410.4 276.6L800.5 438.1M410.4 276.6L343.5 513M410.4 276.6L742.4 440.5M410.4 276.6L630.3 327M410.4 276.6L482 378M410.4 276.6L549.5 378M410.4 276.6L414.4 445M410.4 276.6L482 445M410.4 276.6L414.4 512.5M410.4 276.6L684.3 580M410.4 276.6L414.4 647M410.4 276.6L482 647M474.6 250L612.4 250M474.6 250L773.9 373.9M474.6 250L357.2 439.5M474.6 250L746.3 511M474.6 250L742.4 440.5M474.6 250L406.7 378M474.6 250L482 378M474.6 250L617.3 378M474.6 250L617.3 445M474.6 250L414.4 512.5M474.6 250L414.4 580M474.6 250L482 580M543.5 240.9L800.5 438.1M543.5 240.9L357.2 439.5M543.5 240.9L742.4 440.5M543.5 240.9L630.3 327M543.5 240.9L617.3 378M543.5 240.9L684.3 512.5M543.5 240.9L482 580M543.5 240.9L549.5 580M543.5 240.9L549.5 647M612.4 250L676.6 276.6M612.4 250L357.2 439.5M612.4 250L343.5 513M612.4 250L746.3 511M612.4 250L406.7 378M612.4 250L414.4 445M612.4 250L549.5 445M612.4 250L617.3 512.5M612.4 250L684.3 512.5M612.4 250L414.4 580M612.4 250L684.3 580M612.4 250L549.5 647M676.6 276.6L746.3 511M676.6 276.6L742.4 440.5M676.6 276.6L548.2 310M676.6 276.6L406.7 378M676.6 276.6L482 378M676.6 276.6L414.4 512.5M676.6 276.6L684.3 512.5M676.6 276.6L617.3 580M676.6 276.6L684.3 580M676.6 276.6L482 647M731.7 318.8L343.5 513M731.7 318.8L548.2 310M731.7 318.8L549.5 378M731.7 318.8L482 445M731.7 318.8L414.4 512.5M731.7 318.8L482 512.5M731.7 318.8L549.5 512.5M731.7 318.8L617.3 512.5M731.7 318.8L684.3 580M731.7 318.8L549.5 647M773.9 373.9L742.4 440.5M773.9 373.9L630.3 327M773.9 373.9L482 378M773.9 373.9L684.3 378M773.9 373.9L414.4 445M773.9 373.9L549.5 445M773.9 373.9L617.3 512.5M773.9 373.9L414.4 580M773.9 373.9L482 580M773.9 373.9L482 647M773.9 373.9L684.3 647M800.5 438.1L742.4 440.5M800.5 438.1L459.5 324.5M800.5 438.1L549.5 512.5M800.5 438.1L617.3 512.5M800.5 438.1L482 580M800.5 438.1L549.5 580M800.5 438.1L549.5 647M357.2 439.5L746.3 511M357.2 439.5L459.5 324.5M357.2 439.5L482 378M357.2 439.5L549.5 378M357.2 439.5L617.3 378M357.2 439.5L684.3 445M357.2 439.5L684.3 580M357.2 439.5L617.3 647M343.5 513L406.7 378M343.5 513L549.5 378M343.5 513L414.4 445M343.5 513L482 445M343.5 513L414.4 512.5M343.5 513L414.4 580M343.5 513L482 580M343.5 513L617.3 580M343.5 513L414.4 647M343.5 513L482 647M746.3 511L549.5 378M746.3 511L617.3 378M746.3 511L684.3 378M746.3 511L482 445M746.3 511L482 512.5M746.3 511L549.5 512.5M746.3 511L617.3 580M746.3 511L684.3 580M746.3 511L414.4 647M746.3 511L617.3 647M746.3 511L684.3 647M742.4 440.5L630.3 327M742.4 440.5L406.7 378M742.4 440.5L684.3 378M742.4 440.5L414.4 445M742.4 440.5L549.5 445M742.4 440.5L482 512.5M742.4 440.5L617.3 512.5M742.4 440.5L414.4 580M742.4 440.5L549.5 580M742.4 440.5L617.3 580M742.4 440.5L684.3 580M742.4 440.5L549.5 647M459.5 324.5L548.2 310M459.5 324.5L482 378M459.5 324.5L617.3 378M459.5 324.5L482 445M459.5 324.5L617.3 445M459.5 324.5L684.3 512.5M459.5 324.5L684.3 580M459.5 324.5L414.4 647M459.5 324.5L684.3 647M548.2 310L414.4 445M548.2 310L482 445M548.2 310L549.5 445M548.2 310L617.3 445M548.2 310L549.5 580M548.2 310L482 647M630.3 327L406.7 378M630.3 327L482 378M630.3 327L414.4 445M630.3 327L482 445M630.3 327L684.3 445M630.3 327L414.4 512.5M630.3 327L617.3 512.5M406.7 378L482 378M406.7 378L549.5 378M406.7 378L549.5 445M406.7 378L549.5 512.5M406.7 378L414.4 580M406.7 378L482 580M406.7 378L549.5 580M406.7 378L617.3 580M482 378L684.3 378M482 378L482 445M482 378L617.3 445M482 378L684.3 445M482 378L414.4 512.5M482 378L482 512.5M482 378L482 580M482 378L617.3 580M482 378L684.3 647M549.5 378L617.3 378M549.5 378L617.3 445M549.5 378L684.3 445M549.5 378L549.5 512.5M549.5 378L684.3 512.5M549.5 378L482 580M549.5 378L617.3 580M549.5 378L549.5 647M549.5 378L617.3 647M549.5 378L684.3 647M617.3 378L549.5 445M617.3 378L684.3 445M617.3 378L549.5 512.5M617.3 378L684.3 512.5M617.3 378L414.4 580M617.3 378L549.5 580M617.3 378L684.3 580M617.3 378L549.5 647M684.3 378L414.4 445M684.3 378L482 445M684.3 378L549.5 445M684.3 378L684.3 445M684.3 378L549.5 512.5M684.3 378L617.3 512.5M684.3 378L482 580M684.3 378L617.3 580M684.3 378L684.3 580M684.3 378L482 647M414.4 445L482 512.5M414.4 445L617.3 512.5M414.4 445L414.4 647M414.4 445L684.3 647M482 445L549.5 445M482 445L684.3 445M482 445L414.4 512.5M482 445L549.5 512.5M482 445L617.3 512.5M482 445L684.3 580M482 445L617.3 647M549.5 445L617.3 445M549.5 445L684.3 445M549.5 445L549.5 512.5M549.5 445L414.4 647M549.5 445L617.3 647M617.3 445L617.3 512.5M617.3 445L684.3 512.5M617.3 445L414.4 580M617.3 445L549.5 580M617.3 445L684.3 580M617.3 445L414.4 647M617.3 445L684.3 647M684.3 445L482 512.5M684.3 445L482 580M684.3 445L482 647M684.3 445L684.3 647M414.4 512.5L549.5 580M414.4 512.5L482 647M414.4 512.5L549.5 647M482 512.5L482 580M549.5 512.5L684.3 580M549.5 512.5L549.5 647M549.5 512.5L617.3 647M549.5 512.5L684.3 647M617.3 512.5L414.4 580M617.3 512.5L549.5 647M684.3 512.5L414.4 580M684.3 512.5L549.5 647M684.3 512.5L617.3 647M684.3 512.5L684.3 647M414.4 580L549.5 647M414.4 580L617.3 647M482 580L617.3 580M482 580L684.3 580M482 580L482 647M482 580L684.3 647M549.5 580L617.3 580M549.5 580L414.4 647M549.5 580L549.5 647M549.5 580L617.3 647M617.3 580L684.3 580M617.3 580L482 647M684.3 580L414.4 647M684.3 580L482 647M684.3 580L549.5 647M414.4 647L549.5 647M482 647L617.3 647M549.5 647L617.3 647"/>
<path fill="none" stroke="#fff" stroke-width="1.7" stroke-linecap="round" d="M528.6 249.9l-2.6 0.5M792.7 376.9l0 0.4M351.9 251.9l2.7 1M546.9 736l-0.4 1.8M549.8 547l-1.1 0.3M697.3 753.4l2.4 1.1M723.4 695.3l-0.3 0.1M574.5 657.5l-2.9 1.2M714.3 467.5l-1 1.6M681.2 455.9l-2.3 0.2M447.9 807.4l1.2 0.7M657.6 560.1l-0.4 1.1M533.6 492.7l0.7 1.1M245.6 546l0.1 1.2M801.4 607.1l3.1 0.2M702.4 273.5l-0.3 0.2M366.1 415.4l0.3 0M676.8 471l-0.6 0.6M839.3 396.7l0.6 1.2M580.3 274l-0.4 0.4M729.4 282.6l-0.4 0.1M488.2 593.9l-2 0.5M713 421.8l1 1.6M623.7 676.8l0.5 0.2M815.9 504.4l0.8 0.1M221.4 441.4l1.1 1M659.3 284.3l0.4 1.6M609.3 470.8l0 0.4M748.1 731l-2.4 0.4M604 255.4l0.1 0.6M613.5 404.4l0.2 1.1M739.7 245.9l0.5 3.1M512.4 281.3l1 1.3M669 676.9l-1.4 0.1M316.2 278.6l0.8 1.5M528.2 607.6l-2.3 1M586.5 316.7l-1.5 2.1M558.3 241.6l-0.8 1.1M367.8 525.7l-1.4 2.1M710.5 450l-0.5 2.1M508 499.7l-0.5 0.9M633.3 304.9l-1.8 1.3M421.8 356.9l-2.1 1.3M649.6 347.1l-1.6 2.3M855.9 422l-0.2 1.8M611.7 394.9l0.2 3M490.1 240.6l2.1 1.2M287.3 368.2l0.5 2.2M582.3 252.5l-1.4 1.7M571.4 556.3l-0.7 1.4M481.5 367.9l2.1 0.3M575.7 734.1l0.4 0.2M619.5 679l0.9 0.1M377.6 663.8l-0.6 2M674.1 418l0.1 0.3M394.9 603.3l-0.5 0.3M738.6 555.3l2 0.6M412.2 716.2l-2 0.3M281.2 655.3l-1.1 2.4M667.8 666.2l-0.4 2M858.4 445.5l0.9 1.8M853.9 511.9l-0.1 0.6M706.1 710.2l-2 0.7M358 594.2l0.6 0.8M305.1 733.1l-3 0.8M526.3 764.2l0 3.1M452.5 702.9l0.1 3.2M367.2 535.5l-0.2 0.6M483.2 721.7l-2.2 1.3M504.9 502.3l-1.1 0.2M550 801.7l1 0.5M454 826.1l0.2 2.1M331.4 349.1l2.3 0.9M451.9 783.3l0.9 1.6M365.4 476.5l0.7 1.5M302.3 356.2l0.3 0.3M734.8 398.5l-0.4 2.8M549.1 470.8l-0.4 1.5M354.8 304.9l-1.6 0.5M382.6 638.7l2.3 1.6M628.6 352.6l-0.4 0.2M291.1 622.7l-0.9 0.7M738.6 756l-0.3 1.7M428.9 713.5l-0.2 0.7M812.3 633.9l-0.8 0.5M390.3 258.6l-0.2 0.3M868.4 506.6l2.3 0.4M600.2 807.2l-2.1 0.3M726.7 718.5l-1.1 0.3M443.9 428.2l1.3 0.7M792.7 580.4l0.2 0.6M624.8 541.3l-1.4 1.4M747.5 741.1l0.9 1.3M286.9 526.7l1.2 2.8M516.7 436.3l-0.3 0.7M740.5 384.8l-0.7 1.8M381.5 456l-0.7 0.7M700.3 686.8l0.4 0.9M663.7 765.8l-1.1 2.1M494.5 426.2l0.5 0.2M560.2 763.7l0.2 2.8M596 330.3l-0.3 0.3M586.6 572.1l-1.6 2.6M658.2 613.9l-1.5 2.7M732.9 740.1l0.9 1.9M462.1 648.6l1 1.8M676.2 664.9l-1.2 2.4M271.6 630.3l-0.2 2.8M314.4 397.2l0.8 2.3M642.6 531.3l0.9 0.1M233 547.1l2.5 0M716.2 365.5l0.5 2M724.4 642.1l0.7 0.4M389.9 642.9l2.5 1.3M513.5 673.9l0.5 0.6M383 528l-0.4 0.1M727.4 433.8l-1.2 2M755.4 433.8l-0.3 0.6M460.6 351.6l2.1 1.2M688.1 533.1l0.9 0.2M748.1 475.5l0.8 1.1M495.3 730.9l-1.5 1.9M549.9 643.1l-2.2 0.4M301.6 621.9l3.1 0.1M556.9 430l1.5 0.2M785.9 494.1l0.8 1.6M633.1 553.7l0.1 2.9M843.2 615.8l1 0.2M735.3 586.7l0.3 1M715.1 567.9l-0.4 0M402.4 502.4l-0.1 1.5M504.5 598.2l-0.1 0.6M283.8 326.6l2.2 1.7M499.8 499.3l-0.4 1.7M398.9 366.7l-2.3 0.6M368.3 567.6l2.1 1.7M499.6 613.9l-0.4 0.4M427 785.7l0.7 0.2M682.9 592.5l-0.4 1.5M693.4 571.6l2.3 0.4M508.9 653.8l1.3 0.4M458.3 707l-0.4 2.4M365 252.6l-0.6 2.4M631.4 309.6l-2.2 0.3M457 241.6l-0.9 0.6M681.5 659l0.4 0.2M466.1 358.9l1.1 0.2M272 408.5l0.4 0.1M467.8 603.1l-2.8 0.4M572.6 766.3l0.6 1.4M731.1 524.8l-1.7 1M774.4 668.6l1.6 0.9M279.8 602.2l-2.4 1.8M495.6 613.5l0.4 2.9M339.1 588.2l-2.5 0.5M778.5 464.4l1.9 0.6M281.5 654.3l-0.5 0M489 482.2l-1.6 0.6M586.3 712l0.9 0.7M387.9 703.6l1.8 1.7M544.2 705.7l-2.8 1.5M317.8 304.3l1.3 0.6M241.6 528.7l0.4 0.2M521.1 408.4l2.4 1.7M409.8 773.3l-2.1 1M623.1 262.4l1.4 0M340.1 387.7l0.3 0.8M725.2 541.4l0.4 1.1M476.2 292l-1.5 0.1M806.6 372.9l-1.2 2M614.8 279.5l-0.4 1.3M272.6 472.2l1.1 0.3M481.8 586.7l-1.4 1.4M444.6 771.4l1.9 2.3M793.1 632.1l-1.3 2.1M799.7 315.6l-2 1.1M324.6 327.9l-0 0.9M563.4 821.7l-0.4 3.1M748.9 513.8l1.2 0.8M757.3 352.6l-1 2.8M701 639.7l-0.4 2.3M345.9 708.6l2.3 1.8M521.8 691.3l-2 0.7M451.3 410l1.9 1.6M466.4 476.8l-2.5 1M298 650.5l-0.1 1.5M440.7 807.1l-0.4 1.1M666.7 809.5l0.4 0.1M345 360.2l0.7 0.5M387.8 307.6l-1.5 1.7M460.6 517.8l-2.7 0.4M651.8 359.6l-2.1 0.5M490.2 360.8l0.2 2.7M578.4 608.2l0.7 0.2M445.9 424.5l-0.4 0.4M656.7 251.1l-1.6 2.1M847.7 425.1l-2.1 0.2M626.7 573.9l0.4 0.3M346.8 561.8l-1.6 1.6M463.6 564.6l0.7 1.7M449.3 445.2l-0.8 1.2M767.9 456.1l3 0.7M490.3 227l1.1 0.4M403 691.2l-2.4 0.6M490.5 707.4l-1 1.4M281.4 375.8l0.6 1M240.3 473.3l0.1 0.4M461.1 370.9l0.3 0.4M440.8 524.4l-0.4 3.1M729.7 427.3l0.2 0.5M839 519.6l1.1 2.3M541.8 552.3l0.6 1.5M766.1 587.7l-0.9 0.1M325.9 548.6l0.4 0.4M417.8 212.4l1.7 0.3M578.8 306.5l-0.5 1.5M350.1 262.1l2.1 0.2M548.2 459.5l-1.4 0.6M800.4 357.9l-1.4 0M765.1 329.6l-0.6 0.5M753.1 472.6l2.5 2M513.9 722.4l1 1.3M734.5 698.5l0.1 0.8M476.2 570.9l-2.7 1M687.3 527l-2.7 0.3M709.3 703l-1 0.2M855.5 572l0.2 0.8M546.2 339.6l-1.1 0.9M414.2 495.2l-1.9 2.5M617.9 573.6l0.8 2M343.6 538l-2 0.2M394.9 442.3l-0.2 1.1M730.5 720.1l-1 1.4M545.9 480.5l-0 1.5M610.7 261.5l-0 0.5M493.4 552.6l1.3 0.1M370.7 565.6l-2.1 0.5M344.7 472.3l-2.3 0.5M862.7 485.8l1 0.6M823.6 658.9l-1.1 1.2M358.3 664.4l1.8 2.4M659.6 295l0.3 0.6M329.6 416.6l0.1 0.9M610.7 552.4l1.2 0.6M514.9 833.5l-0.9 0.7M520.4 793.3l-1 2.5M400.1 361.1l0.7 0.7M255.7 626.2l2.5 1.5M657.8 549.2l-0.5 2.4M573.2 518.7l0 2.7M840.5 586.2l1.9 0.7M327.6 329.6l1.6 1.3M788.4 716.5l-0.3 0.4M633.8 551l-0.7 1.5M485.3 203.5l-0.2 0.5M762.3 718.2l1.7 1.8M722.3 511.7l-0.1 2.5M235.9 577.3l0.6 0.5M702 454.4l0.9 0.2M714.3 603.5l-0.6 1.4M663.1 747l0 0.7M283.4 599.2l-1.9 0.5M527.9 634.9l-0.2 1.7M247.6 403.4l0.6 2.2M692.2 259.3l1.1 0.4M436.9 641.1l1.9 2.1M375.9 307.6l2.9 1.1M392.4 757.9l-0.2 0.5M278.6 359.8l-0.4 0M408 355.5l1.6 1.8M441.2 695.2l0.6 0.1M305.6 658.9l2.8 0.6M619 674l-2.4 1.9M229.8 497.5l0.2 0.6M696.7 536.4l1.2 1.5M433.9 502.1l-3 0.5M722 645.6l2.4 0.9M751.2 631.4l-0.4 3.1M511.7 726.2l-1.9 0.2M596.7 718.8l-1.7 0.5M406.1 358l1.5 2.5M249.8 456.1l0.7 0.1M229.5 577.8l-1.5 0.4M292 509.7l-0.8 0.8M377.8 540.8l-0.8 2.4M577.4 625.6l-1.5 1.7M647.7 508.3l0.6 0.3M448.7 542.7l-1.9 0.9M499.8 383.6l-0.2 0.6M439.5 640.1l-0.3 0.3M552.3 395.1l-0.4 1.2M278.9 528.7l-2.7 0.7M453.9 661.5l2.6 1.2M358.1 619.3l2.9 1.2M553.8 243.2l2.4 0M419.4 806.2l-1.3 2.4M654 327.6l1.1 2M259.8 500.9l-0.8 2.2M700.8 757.9l1.7 0M581.5 219.2l2.7 0.4M302.8 542.4l0.5 0.4M737.8 249.7l-0.9 0.5M342.4 686.2l1.6 1.4M714.3 520.9l-0.6 2.1M257.6 503.2l0.9 1.3M344.7 712.8l-1.5 1.4M456.1 307.5l0.3 0.3M723.7 751.9l0.5 0M768.8 688.9l0.3 1.6M249.5 553.3l1.8 0.1M574.1 217.5l-1.8 1M487.2 257.3l-1 2.6M577.2 478.8l2.6 1.9M496.6 581.6l0.2 0.5M560.4 606.8l0.1 0.3M518 330.9l1.2 0.7M796 311.7l1.8 1.4M342.5 573.5l1.5 0.1M566.7 288.6l-2.1 1M563.8 238.2l-2.7 0.7M288 657.9l-1.1 1.9M471.7 208l1.3 0.9M541.6 698.8l-1.7 1.5M400.6 479.8l1.1 2.5M462 447.5l1.2 0.6M718.9 517.7l0.2 0.7M648.8 514l-1.9 0.3M403.2 777.5l2.9 0.7M669.9 515.5l-0.1 0.4M257.7 550.2l0.4 2.6M295.8 311.4l1.6 0.9M341.5 588.9l2 1.8M614.8 346.3l-0.1 0.5M463.4 376.8l1.9 0.6M306.5 665.1l-1.1 0.5M435.6 781.1l2.1 0.9M748.5 627.8l-2.1 0.6M796.7 576.6l0.2 1.8M669.8 688.6l0.2 1.1M501.7 431.7l0.6 0.8M509.7 604.1l1.8 2.4M484.1 594.3l2.9 0.8M591.2 696.8l0.3 2.3M609.1 431.2l-0.7 1M695.8 349.8l0.4 0.3M526.1 685.6l-0 2.7M347.9 501.6l-0.6 2.7M419.5 325.2l0.6 2M687.8 668.6l-1.5 0.6M421.1 646.8l-0.6 2M411.7 556.1l2.4 0.3M545.7 401.2l2.9 0.6M476.1 442.7l-0.5 1M483.2 526.5l0.4 0.7M267.7 492.7l-2.4 1.3M691.4 297.5l0.1 0.8M410.1 378.1l-0.6 0.2M584.3 313.6l-3 0.6M670.3 348.6l2.9 1.3M501.3 227.6l1 1.2M425.2 582.4l0.9 2.9M420 396.3l-0.5 1.5M491.6 726.7l-0.3 0.2M552.6 777.7l-0.4 1.7M732.3 373.5l1.5 2.1M395.4 385.9l-0.8 0.2M471.7 510.2l-0.1 1.1M553.4 579.6l-2.5 2M392.7 552.3l0.4 0.1M685.8 495.8l0.9 0.8M607 563.7l-2.2 2.3M704.3 238.2l1.8 1.8M525 644.6l0.4 0.3M262.5 525.8l0.2 0.3M722.3 265l-1.6 1.8M247 399.2l-0.3 1.4M712.8 549.8l0.1 1M642 565.5l0.4 0.9M220.2 536.4l-1.9 2M430.7 738.3l0.8 1.2M703.2 302.4l1.6 2.1M669.4 517.2l1.5 1.3M534.1 533.3l0.8 0.6M309.9 374l-0.7 0.8M674 438.8l-0.2 0.6M511.5 234.6l-1.6 0.7M446.9 266.1l0.4 0.3M325.8 446.8l-0.4 0.4M350.1 540.2l-1.6 0.9M373.3 443.5l-1 1.8M508.5 691.3l-0.5 1.6M718.7 707.4l-0.3 1.6M658.6 597.2l3 0.2M477.5 733.9l0.3 0.3M434.6 587.8l2.8 0.7M475.7 325.9l2.1 0.1M511.4 664.8l0.5 2.8M375.8 530.8l1.5 0.8M493 245l-0.2 1.7M820.8 431.5l2.1 0.3M419.2 310.2l-0.7 1.1M393.1 376.3l-1.1 1.8M458.8 203.6l-1.4 1.9M422.6 405.9l2.1 0.4M583.7 793.6l-0.1 1.7M568.8 230.8l-1.6 0.3M341.2 420.9l1.7 2.7M810.4 434.5l-0.4 0.4M283.8 444.2l-2.3 1.1M416.1 520.7l-1.2 1.7M647.4 204.6l2.6 0.5M726.4 398.5l-2.2 2.1M565.7 320.9l-0.9 1.6M716.6 312.6l-2.4 0.2M310.4 519.5l-0.4 2.2M612.7 491.5l0 1.2M566.9 573.2l1.9 2.3M610.4 343.1l-0.5 0.9M739.9 359.3l0.9 1.4M431.9 636.8l0.3 0.1M491.8 627l-2.5 0.5M542.2 706.4l-0.5 1.1M710.9 663.7l1.2 1.4M569.5 387.8l0.1 0.6M263.6 433.2l1.5 2.4M851 596.9l0.7 2.8M540.9 528.3l-2 2.5M648.1 247.3l0.2 0.3M731.6 388.4l2.6 1.3M233 400.3l1.1 0.3M328.2 482.2l0.9 1.3M224.6 559.6l-0.9 0.8M397.7 586.1l0.4 0.4M303.6 282.5l-0.9 1.6M273.9 473.9l1.2 0.6M583 549l1.5 0M400.7 741.3l0.5 0.8M600.2 734.2l0.1 2.8M616.4 554.1l-0.7 2.8M501 336.7l-0.4 0.1M378.3 235.8l0.1 0.4M290.7 342.7l0.7 0.6M459.5 498.6l0.1 0.8M795.6 327.8l-1.3 1.1M656.4 471l0.2 2.8M451.1 807l1.7 2.7M707.1 239.1l-2 2.3M525.5 597.8l-2.1 0.6M806.2 576.1l0.6 1.2M563.3 644.9l0.7 1.7M396.8 599.5l-0.9 2.9M802.9 392.5l-0.4 0.1M575.7 606l-1.7 1.7M286.2 548.8l0.5 2.3M569.7 652.8l0.6 0.1M848.3 410.8l0.4 1.3M576 339.1l1.5 0.9M821.7 375.6l0.1 0.4M442.4 391l0.8 1.1M400.3 396.7l0.1 1.8M273.6 555.5l0.6 3M808.1 385.9l-0.6 2M472.5 225.1l0.2 0.8M671.6 527.3l1.2 2M706.3 537.1l-0.2 0.3M360.3 587.2l-2.2 0.6M595 781.2l2.7 1.7M386.6 312.3l-1.1 0.4M477.9 260.4l-0.6 0.4M411.6 390.5l1.3 2.1M459.7 658.7l-1.5 2.8M332.4 424l1.5 1.6M612.3 567.6l-0.6 1.9M305.4 285.2l-2.8 0.1M337.1 619.9l0.7 1.5M285.8 379.1l-0.6 0.1M540.1 270.6l-0.5 1.8M730.2 675.3l-0.5 0.5M676.6 651.2l-1.9 1.9M323.2 697.9l-0.5 0.5M466.6 376.6l1.5 1.8M529 501.7l-0.7 2.5M586.2 834.4l0.5 2.4M461 748l-0.1 1M758.8 371.6l0 2.1M357.2 318.3l1 1.1M335.4 687.9l0.4 0.2M465.3 327.8l0.1 2.2M404.2 774.4l-0.9 0.9M299 632.2l2.9 0.2M694.1 322.1l2.3 1.6M251.9 448.8l1.5 2.6M373 300.7l1.5 2.8M687.9 655.4l2.2 0.5M726.7 751.6l-0.8 0.1M549 277.1l0.9 0.9M741.2 488.4l-0.8 0.3M410.9 229l-0.7 0.8M280 337l-0.3 0.9M270.3 335.8l0.6 0.4M792.2 587.7l0.1 0.3M374.7 516.8l-0.1 0.5M431.1 757.6l-0.2 2M281.9 374.8l-0.4 2.1M788 680.6l-0.6 0.3M843 525.1l-1 2.7M449.8 218.9l1.3 0.5M470.3 230.5l1.1 1.3M725.2 432l1.3 1M866.7 465.5l0.7 0.5M328.4 693.9l-0.9 1.4M399 413.6l0.7 0.6M323 616.9l2.6 1.3M518.5 825l1.2 0.4M726.2 487.6l-1.2 0.7M432.6 202.8l0.2 0.8M542.3 644.9l1.1 0.6M272.7 471.2l0.8 0.8M635.7 591.9l1.5 0.4M534 748.4l1.7 1.9M829.5 407.2l2.3 2M228.9 566l0.3 2.8M528.7 752.4l1 2.3M460.1 210.8l1.5 0.2M393.6 595l-0.4 1.3M518.6 514.8l-2.9 0.4M435.6 257.6l-2 0M257.8 582.6l-1.7 0.3M342.2 368.1l-0.6 1M758.2 429.8l-3.2 0M851.8 597l0.2 0.4M261.8 402.6l1 0.3M657 628.4l-0.5 0.5M614.3 635.7l1.9 0.8M365.2 266.1l-1.9 2.2M511.2 790.4l0.6 1.4M718 401.8l-1.3 0.9M769.5 640.2l-0.2 0.9M573.1 801.5l0.4 0.9M346 617.7l-1 2.8M445 654.5l1.6 0.9M731.7 591.9l-2 0.9M285.7 330.6l-0.3 1.4M651.6 730.2l0 1.9M404.8 561.5l-1.2 2.5M555.6 698.8l-0.4 2.1M364.8 542.5l-0.6 1.4M326.4 731.7l-0.4 1.8M553 779.3l-1 0.2M489.2 395.8l0 1.1M557.2 731.2l-0.8 0.1M582.5 560.6l1 2.2M566 366.2l2.5 1.9M321.2 678.1l-1 3M380 243.2l0.1 0.7M700.8 737.2l-0.6 0M356.8 252.5l-0.3 0.4M608.4 188.6l0.4 2.3M776.8 392.9l1.7 0.4M662.2 472.9l-2.3 0.5M642.1 588l0.5 2.2M566.4 733.2l-1.9 1.6M287.7 630l0.6 1.6M438.8 710.1l-1.6 0.2M737.1 731.9l-1.9 1.2M690.5 385.5l3 0.7M351 687.8l-0.3 1.6M333.7 285.9l2 2M312.9 695.2l-0.7 0.5M580.6 757.8l0.1 2.9M811.8 485.2l-0.2 1.2M488.2 747.9l-1.8 0.2M515.5 784.3l-0.8 2.1M446.8 333.7l-1.1 0.9M634.3 326.4l1 0.6M675.4 644.5l-2.8 0M555.2 722.5l-2.6 1.3M486.2 663.3l1.6 0.7M420.9 601l0.6 0.3M461.6 753.7l-2.9 0.4M499.9 776.8l1.2 2.2M268.9 652l-1.6 1.6M546.6 233.4l1.1 0.6M735.6 458.5l0.3 0.3M371.2 577.3l2.4 1.5M647.9 521.8l-0.8 1M407 333.7l0.8 1.6M745.8 563.5l-2 2.3M572.1 608.6l-0.1 2.6M545 224.5l-0.6 0.4M637.6 623l-2.1 1.4M405.5 629.8l1.5 1.9M761.8 499.2l-0.7 0.1M852.8 503.7l0.8 0.6M645.9 702l-0.7 2.9M239.6 526.4l-1.7 0.2M559.8 625.3l-0.8 2.7M833.7 501l-0.9 2.4M261.8 452.6l0.5 0.8M229.1 457.4l-0.2 0.4M310.9 275.9l0.2 1.7M345.3 336.8l-1.6 0.5M604.4 205.6l-1.5 1.9M395.6 518.7l0.9 0.6M580.5 829.3l-2.3 1.3M749.5 542.2l-0.4 0.7M371.9 729.8l1.8 1M595 247.7l-0.5 2.5M791.9 513.3l0.3 1M621.5 549.6l-1.7 2.6M450.1 280.2l-1.2 2.6M373.8 644.9l-3.1 0.4M595.5 393.1l1 1.9M499.7 781.7l-0.5 2.4M778.7 597.7l-2.9 0.4M464.6 787.3l2.2 0.9M404.4 711.5l1 1.3M461.4 544.8l0.8 0.5M676.7 644l-0.4 0M602.7 461.7l1.4 0.6M326.1 500.3l-0.1 0.5M533.5 537l-2.1 1.1M426 587l1.7 2.5M544.3 623.3l1.3 2.5M790.9 407.4l1.7 1.2M437.5 713.6l-0.6 1.6M419.5 207.9l-1.5 1M624.1 730.2l1.5 1.7M425.6 607.8l1.7 0.2M734.3 461.9l0.7 1.6M470.9 298.6l0.5 1.7M501.9 758.2l0.5 2.2M381.7 736.1l1.8 1.2M312.4 521.1l0.3 0.1M563.3 287.1l-2.3 1.2M831.8 448.5l0.8 0.4M574.5 391.5l0.5 0.7M645.2 443.4l0.7 0.6M468.2 266.5l-0.1 0.4M315.6 429.7l-1.4 1.1M734 280.4l1.2 0.2M765.2 547.6l0.1 2.1M684.5 263l-1.4 2M513.6 321.7l1.7 1.4M238.9 562.5l1.5 1.1M245.2 559.4l-2.2 1.2M337.5 388.7l1.2 1.1M801.1 369l0.4 0M740.3 618.8l0.7 1.4M567.8 350.1l-1.9 0.5M435.6 609.3l-1.6 1.4M626.5 708.6l-0.3 1.4M353 246.2l-2.4 1.4M326.1 501.8l-1.8 2.1M620.4 703.3l1.5 1.9M541.1 679.8l-1 2.1M271.8 339.7l-1.6 0.6M437.9 444.8l1.6 2.7M639.2 594.4l-0.3 0.3M632.9 318.6l2.7 0.2M526.1 692l1.1 0.1M452.9 650.8l-0.2 1.6M796.7 715.9l-0.7 0.2M370.2 467.4l-1.1 0.4M253.6 373.8l0.2 0.5M288.6 398.4l0.4 1.1M474.7 556.6l0.9 2.5M653.3 705.9l0.6 2.3M571.9 307.3l1.1 0.3M522.3 246.3l0.2 0.4M231.9 492.6l1.4 0.6M390.7 417.9l-1.4 2.6M270.5 688.3l0.2 0.4M729.1 580l-0.5 0.1M751.5 741.6l-0.5 0M499.1 637.7l0.8 0.6M485.4 523.8l2.5 0.6M698 680.8l-2.5 0.8M240.2 445.3l-0.4 0.6M555.7 423.9l-1.1 0.4M531.1 334.2l1.3 1.2M332.4 607.7l-0.1 0.7M467.5 281.1l-0.5 1.2M396.5 489.6l-0.8 0.6M505.3 649.4l0.3 0.4M575.2 750.5l-0.6 0.2M581.1 689.7l-1.3 0.7M775.4 346.2l0.9 1.6M760.1 593.9l-2 1.1M694.8 233.7l-1.8 1.3M377.3 442.2l-0.8 0.2M647.5 721.3l-1.2 2.9M628 384.6l-0.8 2M417.6 793l-0.2 1.1M494.9 368.8l1.4 1M603.1 609.2l-1.9 0.5M712.7 269.9l-1.6 1.1M414 649.9l2 2.1M304.5 402.8l-0.1 0.4M767.8 320.7l-1.4 0.5M595.6 474.4l-1.9 1.3M353.6 394.7l2.1 1.7M544.8 368.7l2.1 1.9M298.3 498.3l-1.1 0.6M574.4 337.5l1.3 0.7M736.3 768.9l0.6 0.1M734.7 542.6l-0.7 0.1M506 347.5l0.9 0M562 529.2l0.4 3M699.8 558l1.2 1.8M412.7 564l1.1 2.1M635.3 738.9l1.9 0.3M827.4 372.1l0.2 2M540.5 302l-1.2 1.6M364.3 639.1l2 1.3M553.6 702.6l-0.8 0.4M526.7 326.3l-0.4 0.1M533.5 284.2l-0.2 0.6M469.8 798.4l0.2 0.5M563.7 221.4l0.3 0.4M466.1 816.5l-0.5 0.2M260.5 610.1l-1.6 1.6M654.5 790.1l-2.3 0.6M251.7 469.5l-1.4 0.1M652.8 200.3l-1.7 0.6M233.5 501.5l-0.2 0.6M480.5 614.3l-0 1.9M655.5 270.7l1.7 2.5M400.1 799.4l-0.9 0.9M216.3 495.5l-2.2 1.4M404.9 385.5l3 0.2M622.9 426.5l0.5 1.9M266.2 611.5l0.3 0.6M360.9 286.3l1.7 0.1M831.7 666.8l-0.9 0.7M420.6 214.4l-1 1M304.3 382.5l-0.4 2.5M529.4 751.7l2.4 0.8M472.1 436l-0.4 0.2M400.2 539.8l0.1 1.1M627 754.7l-1.9 0.2M567.1 635.1l0.8 0.3M577.4 500.6l3.1 0.4M277.1 366.6l-0.8 0.3M470.4 423.3l-1.3 1.8M636.9 639.6l1.3 1.7M525.1 253.8l-0.3 0.3M274 696.5l1 1.7M595.5 814.9l-0 0.6M343 416.2l-0.9 0.2M357.2 665.1l2.4 0.3M702.2 236.8l0.2 1M559.3 447.1l-0.9 3M220.5 566.6l-2.5 1.3M234.7 589.8l1.8 0.2M815.9 679.1l-0.6 1.9M460.8 621.2l1.2 0M388.4 651.3l-1.4 1.9M763.3 277.1l-0.4 1M608.4 243.5l0.4 0.6M439.3 747.3l0.8 2.8M794.4 625.7l-2.9 0.2M366.2 782.4l-2.7 0.1M638.5 558.5l-2.2 0.1M572.3 460.8l0.2 2.2M417.5 504.5l1.4 1M522.1 197.5l-0.3 0.7M778.2 413.4l-3 1.1M474.3 546.6l-0.5 0.5M586.8 426.5l-0.9 1.9M760.2 274.9l-0.9 2.2M299.5 482.5l0.3 0.2M306.4 649.6l-1.4 0.7M513.8 306.9l-2.3 1.3M417.3 410l-0.4 1.6M577.8 600.1l-0.8 0.6M325.5 706l0.4 2M516.6 750.6l-1.3 0.2M766.6 724.3l-0.6 0.3M402 340.6l-0.7 1.9M720.8 768.2l1.9 2M515.6 597l-1.5 1M788.9 463l0.3 0.8M331.6 375l-0 2.3M562.9 407.4l2.5 0.6M839.4 521l-0.9 2.1M694.2 606l-0.4 1M635.7 287.8l-0.3 0.7M717.3 558.2l0.8 0.3M670 541l1.3 2.8M288.5 645l1.3 1.3M618.9 821.4l-2.4 2M793.2 685.9l-1.5 2.8M312.9 406.9l-1.6 0.2M854.3 413.5l-0.1 0.7M654.2 762.4l-2.1 2M508.9 619.7l-2.1 0.8M488 835.3l-0.7 2.6M554.2 708.2l0.6 0.1M698.9 659.1l0.5 0.8M578.3 626.1l-1 0.1M383 365.4l-1.9 0.2M810.4 376.2l-1.9 2.1M389.6 778.6l1 1.8M506.5 825.5l2.4 2.2M533 317.8l1.5 1.2M625.7 427.3l-0 0.9M241.2 536.9l1.5 0.8M285.6 319.8l0.7 2.1M340.4 702l0.4 0.7M730.9 292.6l-0.9 1.6M354.6 251.8l2.2 2.2M543.6 201.8l-0.6 1.9M676.5 524.2l-0.4 0.1M374.9 385.8l-1.5 0.6M342.7 711.4l1.7 1.3M713.6 780.6l-0.3 2.9M668.1 497.1l-0.5 0.7M654.1 635.4l-2.4 0.9M397.1 234.1l1.9 1M387.3 801.1l2.1 0.2M358.3 483.5l0.5 1.6M744.7 534.4l1 2M467 591.6l-1.6 1.6M700.6 651.8l-0.7 2M767.4 466.8l-0.1 1.4M580.4 552.4l0.7 0.5M649.1 596.8l-0.8 2.9M328.3 422.5l-1 0.5M288.3 635.5l0.4 0M532.6 448.7l0.1 0.4M378.7 682.5l-1.1 0.2M551.9 187.8l-1.8 0.3M574.8 784.5l0.6 0.3M460.2 577.9l1.6 1.3M493.1 590.5l-1.5 0.6M677.8 229.6l-0.9 0.6M391.7 420.7l1.4 1.2M521.8 751.9l1.9 1.8M652.2 780.2l0.1 0.3M337.2 277.4l-0 1M442.8 348.1l1 0.6M862.1 589.8l0.4 0.6M362.6 446.7l1.5 0.8M466 219.2l0.7 0.4M431.9 502.1l-1.4 1.7M649 389.5l0.2 2.9M594.6 611.4l2.3 0.5M487.3 255l0.3 0.2M392.1 571.3l-2.2 1.6M747.3 525.5l1.5 1.1M703.4 436.3l0.4 1.1M788.5 398.5l-0.1 0.5M730.5 701.2l0.3 0.5M480.9 327.9l-1.5 2.7M758.3 505.8l0.6 3M317.1 485.1l-0.3 0.5M266.7 552.5l-1.9 0.6M444.6 268.7l-1.9 2.1M757.2 450.3l2.9 0.8M707 795.8l-1.2 2.6M376.2 749.9l1 0.6M628.8 585.5l-0.7 0.4M694.6 322.2l0.6 3.1M652.3 426l-0 0.6M756.9 724.1l-0.5 1M610.3 432.9l-0.4 2.4M728.2 733.7l-0.3 2.7M622.1 322l1.6 0.2M810.6 572.5l1.5 1.2M356.9 612.6l-1 2.1M567.7 704.1l2.5 0.5M505.8 260.5l2.1 0.2M482.7 436.1l-1.1 2.4M441.2 198.4l-1.5 0.2M665.2 613.4l1.4 0.1M298.9 457.6l-0.3 0.8M471.1 295.3l-2.1 1.5M763.2 669.8l-1 1.7M441.1 615.3l1.2 1.4M520.9 602.3l-1.1 1M727.7 240.1l-2.9 0.2M368.7 349.7l-0.2 0.3M371.4 758.9l2 0.6M254.1 648.6l1.2 1M836.7 420.7l-0.1 1.5M490.5 341l-1.9 1M498.2 508.9l3.1 0.2M356.2 693.2l0.4 0.5M613.7 825.8l-1.5 0.7M650.1 525.3l-0.8 1.9M575.7 455.5l-0.7 2.4M686.2 434.6l-0.9 0M747.9 377.3l-0.6 1.8M246.1 632.4l-1.2 0.1M770.7 746.6l-2 1.9M557.7 660.5l-0.4 0.2M590.7 429.6l-2.6 0.1M583 407.2l0.5 0.2M734.6 744.6l-2.4 0.1M339.4 617.4l-1.2 2.6M423.7 204.7l1.6 0.2M550.8 198.4l-0.4 0.6M382.7 573.3l0.7 0.2M492.1 289.9l-2.1 1.1M533 194.9l-0.8 0.7M753.1 698.1l-0.3 0.1M636.3 410.7l0.8 2.9M757.1 616.1l-0.5 0.2M527.2 770.1l0.8 0.2M502 796l-0.4 0.2M632 671.6l0.8 1.8M310.9 571.8l1.2 1.4M766.9 446.3l0.2 0.9M328.4 578.7l-0.5 1.2M729.3 768l-1.6 0.1M538.6 501l-0 1.4M531.1 791.1l-0.2 0.4M227.1 601.5l-0.1 3M398.5 279l-1.2 2.2M477.5 244.5l-1 0.4M284.4 507.5l1 1.9M680.9 427.2l0.4 0.8M288.3 515.7l0.4 0.4M729.6 729.7l1.6 0.6M632.3 497.7l0.2 1.6M589.6 585.7l-1.8 0.4M284.4 699.3l1.4 1.1M736.5 740.2l1 0.7M733.5 300.7l0.8 1.4M798.6 694.3l1.4 2.1M528.9 824.2l-2.5 1.3M594.4 687.1l2.1 0.5M452 743.9l2.1 0.7M512.4 782.3l-1.3 1.5M480.3 630l-1.3 2M848.3 567.1l0.7 1.3M231.7 511.1l1.1 0.6M425.1 696.3l-0.1 0.3M283.1 682.5l-1.5 0.6M854.6 431.1l2.1 1.3M436.1 678l-2.1 1.6M712 755.4l-1 0M382.4 402.5l-1 1.2M550.3 488l-1.7 2.4M473.5 326.6l-0.7 0.6M296.6 346.3l-1.4 2M779.4 344.4l-2.4 0.7M783 649.6l-0.8 0.2M608.4 437.7l2.2 1M476.4 206.3l0.4 0.8M349.1 318.1l-1.8 0.9M657.2 363.7l-2.8 1.4M548.9 728l0.6 1.7M771.1 652l1.1 0.3M499 617.4l-1.5 1.1M695.3 378.6l-1.7 0.2M456.6 680.6l-0.6 0.5M783.2 430.8l-1.3 1.2M663.6 454.1l0.4 0.3M838.4 651l-3.1 0.1M468.8 550.5l-2.6 0.2M744.5 376.4l-1.1 1.1M493.8 438l-0.6 0.7M714.8 540.5l1.2 1.1M776.6 519.9l1.2 1M389.8 383.2l0.1 2.4M492.2 719.9l-1.4 1.5M655.4 624.9l1.6 1.7M271.8 413.1l0.3 0.5M702.1 234.5l-2.2 0M613.2 189l0 2.8M472 814l-3 0.2M831.4 435.9l-1.2 1.9M525.2 401l-0.5 0.2M752.6 301.8l1.6 1.9M286.6 527.4l-0.9 2.7M499.3 303l-1.1 2.3M441 336.4l1.8 0.6M646 646.7l1.7 0.6M299.3 354.1l-0.4 0.6M828.2 570.1l0.2 2.4M813.3 354.2l-1.7 1.3M531.6 367.6l-1.6 1.7M563 730.7l1.2 0.7M425.5 268.3l-1.6 1.3M403.3 400.3l-1 2.4M511.3 644.7l0.7 1M346.4 700.4l-0.9 0.1M754.4 375.5l1.4 0.6M616.7 463.9l0.4 0.1M327.1 647.4l0.2 0.4M671 727.5l1 1M720.9 358.2l-1.4 1.4M839.1 535.4l-0.5 0.3M341.7 625.9l2 2M612 292.5l2.3 0.5M650.6 381.3l0.7 2M234 456.1l1.9 2.2M355.2 688.8l-0.1 0.3M434 720.7l0.3 1.2M799 456.7l-2.4 0.4M721.6 539.4l-0.7 0.4M548.1 405.6l-2.5 2M607.9 731.4l2.3 1.5M515.3 513.6l-3 0M770.8 569.8l0.3 1.6M350.8 696.3l-1.3 0.7M541.5 804.6l1.9 0.3M775.2 529l0.7 2M223.7 497.5l-0.6 0.5M348.3 439.1l0.7 2.3M770.5 583.2l1.2 0.3M310.8 535.9l0.4 0.8M573.6 499.4l1.6 2.3M500.9 184.1l1 1.5M673.6 267l0.4 2.6M605 811.9l-2.6 0.2M575.9 567.8l-1.2 1.9M664.4 526.7l-3 0.1M832.7 631.5l0.4 2.4M478.8 700.2l0.7 2.2M673.8 536.9l0.1 0.4M291.4 382.8l-2.9 1.1M239.3 434.1l-1 1.5M662.4 743.5l0.3 1.9M310.5 526.5l-0.6 1.7M647.2 661.6l-2.3 2.2M624.2 355.8l1.3 2.2M600.8 675.8l0.2 0.2M851.7 452.8l-2.1 0.2M470 488.1l2.1 2.3M587.4 489.3l-2 0.4M588.6 427.2l-1.8 0.8M724.1 542.8l1 1.9M615.5 618.1l-0.2 0.5M785.5 669.1l-0.7 0.5M403.2 424l-0.7 0.5M755.8 643.1l-0.7 1.1M651.4 627.9l1.4 0.1M601.8 562.5l-1 0.6M295.3 701.1l-2.1 1.3M597.3 831l-2.2 0.7M817 585.1l-2 1.8M788.7 575.1l0.5 0M341.7 368.1l-0.5 0.3M677.7 671.5l1.3 1.5M579.2 658.3l2.5 0.8M645.1 632.9l-1.2 1.9M664.3 688l-0.3 0.1M779.9 604.9l-1.9 1.1M682.1 459.3l0.1 0.8M754.4 459.8l-1.1 1.2M484.9 784.5l0.2 1.6M603.4 689.8l-0.8 0M710.7 779.1l1.5 2.8M260.3 568.2l0.4 1.6M482.4 502.2l-1 0.3M490.6 767.2l-0.7 2.6M520.6 247.9l1.9 1.5M527.2 202.9l-1.7 1.8M700.5 491l-2.3 0.6M480.4 674.9l-2.9 0M705.9 731.8l-0.2 1.1M525.7 536.6l-1.9 0.4M755.6 338.3l-0.8 0.4M540.2 664.3l1.6 1.5M531 475.1l-0.2 0.4M435.9 505.8l0.7 2.8M657.8 416.1l0.2 3M551.9 793.4l0.3 0.2M596.3 261l0.7 0.3M530.7 689.7l-0.9 0.9M534.8 310.9l-2.1 0.6M791.4 466.2l-0.2 1.4M583.5 651.6l-1.2 0.6M239.8 593.4l0.7 1.1M301.8 572.7l-1.8 2.6M360.1 431.8l-1.6 0.2M589 376.4l0.4 1.1M541.9 576.5l0.8 0.9M731.5 691.8l-0.2 1.2M335.5 386l0.5 0.6M831 492.7l0.8 0.2M851.6 505.8l-1.5 0.2M749.4 362.7l0.4 0M246.1 571.9l-0.5 0.4M546 520.9l-1.7 1.8M359.3 359.7l1.4 1.5M401 374.6l-0.8 0.6M321.9 283.3l0.5 0.6M303.3 594.2l1.4 0.1M396.6 655.9l-0.6 0M825.5 447.2l-0.6 0.9M546.7 789.7l-1.3 1.5M298.1 438.6l0.7 0.8M355 509.7l1.2 0.9M620.7 505.8l-1.2 0.5M705.1 776.2l0.6 0.6M545.1 527.2l-1.2 1.7M406.6 486.9l-1.4 1.7M553.4 237.2l0.5 0.2M276.5 602.1l-1.5 1.8M473.9 228.1l-1.5 0.5M273.6 540.3l1.3 2.4M381.1 402.1l2.6 1.8M683.8 617.4l0.2 2.2M399.5 688.2l-0.3 1.3M411.6 527.2l-0 0.7M344.9 633.2l-1 0.7M384.3 482.8l1.3 2.8M454.2 314.9l-1.3 1.1M571.7 819.4l0.1 1.8M396.7 340.6l0.5 0.7M391.6 574.3l0.7 1M306 292.4l1.2 0.4M331.3 353l1.9 0.3M617 264.4l-1 1.7M399 644.5l-0.8 0.7M266.4 438.9l1.1 1.4M857.8 588.9l1.1 1.6M831.3 449.5l-1.3 1.5M691.3 500.1l-1.5 0.6M515.3 557.5l2 1.2M526.9 538.9l-2.1 1M423.1 430.6l-2.1 1.9M279 525.1l0.6 0.7M461.5 744.4l1.7 1.6M605.5 762.7l-2.1 0.8M269.8 661.4l2.7 1.3M496.2 711.6l1.4 0.2M379.2 397.2l0.4 2.4M397.8 227.6l-2.1 1.2M559.6 314l1.1 1.3M468.8 250.1l-0.3 0.3M857.3 577.2l0.7 3M292.8 708.1l-0.8 1.4M560.6 690.2l1.1 1.9M528.7 561l-2 2.1M421.5 502.8l1.7 1.1M837.3 461.9l-1.7 1.4M544.1 719.9l-2.1 0.9M707.3 739.6l-3.1 0.9M603.2 777.2l0.7 0.3M264.1 420.2l2.7 1.6M504.6 704.6l-2 1.9M260.5 517.4l0.3 1M516 401.6l-0.3 2M750 737.2l2 0.7M446.1 373.8l-1.6 0.7M442.9 631l0.8 1.1M402.1 742.3l-1.1 0.9M490 434.8l0.5 1.7M646.1 702.7l-0.4 0.5M542.9 697.8l-0.4 0.8M326.5 337.9l0.1 0.4M637.1 700.1l0.7 2.3M239.1 522.1l-0.9 0.4M495.8 574.8l1.3 0.5M458.5 760.1l-2.9 0.8M564.3 573l-1.3 1.8M459.9 645.3l-3.1 0.6M483.4 319.7l-1.5 2.7M737.9 424.5l-1 1.7M837.8 614.1l0.6 0.1M713 479l1 2.2M304.2 604.2l0.8 1.5M536.7 192.6l-0.2 0.4M302 720.7l0.7 0.1M374.2 684.5l-1 1.6M372.2 373.9l-0.4 2M600.2 740l-0.6 0.9M793.8 706.8l0.1 0.4M776 291.5l-0.3 0.9M572.4 426.4l-0.5 0.1M469.7 693l1.2 0.5M589.7 701.5l0 0.4M557.1 209.1l1.7 0.7M535.4 733l-1.5 0.6M399.4 479.9l0.3 1.6M617.4 465.7l2.2 1.8M247.2 595.4l1.6 2.3M620.1 503.8l1.3 0.2M464.5 644.5l-2.7 0.3M666.5 630l-0.6 0M696.9 676.4l-0.1 1.2M286.5 455.1l0.4 2.5M421.5 232.5l2 0.6M509.6 693.2l-2.6 1.1M425.7 259.2l0.7 0M454.8 540.4l-1.1 0M468.5 438.7l1 0.6M671.1 241.9l0.1 1.7M451.9 442.8l-2.3 0.9M645.5 229.5l-0.8 0.2M550 607.9l-1.2 1.5M344 335.4l0.7 2.3M527.2 577l-1.3 1.5M342.4 444.8l-1 2.6M353.8 639.2l0.2 0.6M216.7 493.9l-0.8 1.4M394 564.4l-0.1 1M609.9 284.8l1 2.3M241.1 378.6l1.2 0.7M516.5 543l1.4 1.6M424.8 528.7l0.5 0.4M501.7 280.5l-0.7 1.1M661.8 652.6l-1.2 2.3M532.2 242.8l1.7 0.4M418.5 477.3l2.2 0.3M785.1 366.3l-1.9 0.7M546.2 279l-0 0.4M612.3 233.4l0.9 2.8M539.5 437.5l-3.1 0.6M845.6 554.1l-2.2 0.6M408.5 387.6l0.7 1.9M805.5 685.2l-0.6 0.6M255.3 543.4l2.3 1.6M701.4 551l1.6 2.2M285.7 537.9l1.2 1.4M579.2 401.1l0.7 1.4M773.7 582.1l1.2 2.2M524.2 697.4l-0.3 0.3M631.4 255.7l-1.5 0.7M337.3 463.1l1.5 2.2M404.4 689.7l-0.5 0M602.3 212.4l-0.3 0.1M641 445.4l1.4 0.1M825.8 554.5l2.5 1.1M830.1 594.8l-0.4 0.6M497.2 256.3l-0.1 0.7M656.9 228.1l-1.6 2.3M244.3 492.3l-0.5 1.6M658.9 785l-0.9 0.6M659 619.7l-2.6 0.2M656.6 539.8l-0.4 1.7M340.9 335.3l1.6 0.5M346.6 542.3l0 3.2M396.3 287.9l-1.1 1.8M559.8 618.1l0.2 0.9M683.1 396.1l0.6 0.1M804.5 619.3l0.3 0.3M335.6 509.4l-1.4 1.4M524.5 826.9l0.6 1.5M409.4 458l2.1 1.8M656.4 576.7l-1.5 0M738.4 685.9l2.4 1.9M360.3 384.3l-2.9 1.2M729.7 461l-1.7 1.1M416.3 376.1l-2.4 0M296.2 331.9l-0.3 0.4M648.3 462.3l-2.8 1.3M456.2 446.1l-1.7 1.4M754.6 730.5l0.9 0M216.5 543.7l-1.9 0.8M475.6 636.9l1 1.9M306.2 668.7l-0.3 2M742.4 476.5l1.7 2.1M347.7 360.1l0.9 0.5M360 397.2l-0.4 2.7M315.7 565.1l0.2 0.3M362.1 283.1l-0.5 0.2M726.8 262l1.3 2.1M423.8 631.2l1.5 0.3M486.1 375.5l2.7 0.6M548.9 647.6l0.2 2.7M406.4 393.7l-0.6 2.4M617.3 267.3l-0.8 1.7M686.7 350.7l-0.6 2.9M733.8 336.7l0.3 0.6M378.8 410.1l-0.7 2.5M585.1 266.3l-0.7 1.2M258.7 568.3l2.5 0.1M505 253.5l2.2 0.8M385.3 331.4l-2.3 0.4M566.1 618l2.2 0.3M750.3 577.6l-0.9 2M607.9 595.4l0.7 1.1M345.4 388.6l1.2 0.1M591.9 445.9l-0.8 0.2M645.7 698.8l1.9 0.5M404.1 422l1.3 0.3M539.1 776.6l2.5 1.8M513.2 642l-2.4 1M588.4 802.9l-0.2 1.4M760.9 412.6l-0 2.5M666.5 507.4l-2.7 1.7M540 223.9l-2.1 2.1M299.6 442.5l2 0.3M752.9 660.7l2.7 0.9M538.1 335.6l0.6 0.4M756 422.6l3 0.8M562.1 548l-1.2 2.3M240.3 495.6l-1.3 0.8M629.3 329.1l1.9 0.6M487.2 515.6l-1.3 0.1M469.5 519l1.4 2.1M338.1 690.2l0.9 0.2M422.2 287.1l0.9 1.7M588.6 603.6l1 2.6M665.4 735.2l1 0.2M512.4 837l1.4 0.7M757.5 472.5l1.4 0M378.5 376.3l1.3 0.2M292.1 617.4l-2.9 0.2M562 252.9l2.4 0.6M574.1 256.3l-0.7 2.5M636.6 241.5l2 1.8M782.7 287.9l0.3 0.5M445.7 494.2l0.1 0.7M370.9 413.5l1.1 0.4M552.1 502.9l-0.6 1.3M622.3 547.8l-0.8 1.7M512.2 826.4l-2.8 0.2M360.7 420.8l-0.3 0.5M685.4 252.8l1 1.8M431.4 565.1l2.1 0.3M660.5 363.4l-2 0.5M430 504.1l-0.4 0.9M328.1 265.7l-2.3 2.1M615.3 378.7l-1.1 2M757.7 740.3l-2.3 1.1M524.2 500l0.3 1.7M698.2 614.7l-1.7 0.8M832.6 541.5l0.9 1.8M658.5 220.8l1 1.1M491.1 534.2l-0.6 0.5M306.4 501l0.5 0.2M617.3 632.8l0.3 0.5M299.3 492.5l-0 1.5M476.2 552.5l2.2 0.1M774.5 374.5l-3.1 0.3M477.7 684.2l0.5 0.1M274.5 539.7l-0.3 0.3M341.8 282.4l0.7 1.3M539.7 581.4l-2.8 1.4M627.4 405l0.3 0.2M630.8 690.9l-2.1 1.6M318.8 324.5l-2.1 0.5M398.9 250.7l3.2 0.1M325.7 489.5l2.3 1M324.9 461.9l-1.6 1.3M761.4 456.2l-0.8 0.4M580.1 261.4l-2.6 1.4M277.9 666.9l0.2 0.9M319.4 451.1l-2.3 0.4M588.5 562.2l0.4 0.9M736.9 529.7l0.7 0.5M466.2 742.5l2.7 0.1M362.1 721.1l2 1.7M643 811.8l-0.7 0.2M574.4 239.4l-1.5 0.4M676.5 226.3l-2.6 0.6M604.2 396.9l-0.4 0.7M407.2 616.5l1 0.4M710.7 339.6l1.1 0.7M522.7 805.9l0.6 0.1M809.3 441.3l-0.5 2.2M545.9 232.3l-1.3 2.9M670.7 509.9l0.7 2.2M786.7 315.4l0.4 1.4M665.8 468.9l-1.1 2.1M537.9 356.3l-2.8 1.2M733.7 625.4l2.1 0.4M354.4 617.4l-2.1 2.1M430.8 478.2l1.6 1.5M781.2 589.1l-0.7 2.3M808.1 339.1l1.1 0.2M431.1 265.9l1.3 2.1M615.2 312.5l1.3 1.6M515.5 401.4l-1.1 0.2M258.9 616.3l0.9 0.1M495.2 272.6l0.1 0.5M343.2 544.1l0.3 2M583.3 782l0.1 2.4M355.2 339.8l-2.9 0.2M532.1 472.1l-0.8 1.7M392.7 567.8l0.4 1.4M440 808.8l1.6 0.2M542.6 700l1.3 0.7M447.6 661.4l0.2 1.6M375.9 305.3l0.4 1.6M406 316l-1.3 0.1M708.3 264.5l0.6 0.5M717.9 319.2l-1.3 0.9M797.8 516.2l-3 0.9M620.2 322.4l-0.4 0.8M337.6 677.3l2.6 1.1M415.2 451l2.4 0.2M587.6 777.7l-0 1.8M309.1 670.5l1.5 2.1M346.9 765.4l0.4 0.7M428.8 210.6l1.2 0.4M487.3 241.6l0.3 0.6M319.6 311.8l-1.1 2.9M405.4 499.1l-2.4 0M653.8 656.1l-1.7 2.1M424.6 528.3l0.5 3M741.6 648.2l1.2 2.9M466.3 741.2l0.8 2.9M639.4 262.4l-0 2.7M453.5 221.5l0 1.3M314.4 417.6l0.6 2.2M745.4 289.1l-0.6 0.5M453 610.8l2.5 0.2M608.4 829l-0.6 2.7M763 412.2l-1.3 0.2M258.2 520.6l-1.4 0.9M552 584.1l-0.8 1.1M389.4 231.5l-0.7 0.3M629.3 195.3l-0.9 0.7M440.6 455.7l-0.3 2.4M366.4 442.6l0.3 2.1M605.6 675.5l-3 0.6M589.7 619.7l-1.6 1M793.8 490.2l0.4 1.2M562.2 375.3l0.7 0.7M697 785.9l-1.1 0.5M573.5 674.4l-2.8 0.8M460.2 331.5l-1.6 1.4M716.9 713.5l2 1.1M806.7 651.2l-0 0.8M359.1 746.8l1.3 0.7M447.2 767.6l1.2 0.1M628.1 651.2l0.5 0.4M240.4 496.1l-0.5 2.9M331.7 413.4l1.8 1.5M434.7 380.9l-0 2.2M655.5 324.5l0.7 0.2M604 248.6l-1.2 0.2M538 689.2l-0.5 2.1M591 538l0.3 0.6M542.8 457.7l-0.4 2.1M636.5 650.9l0.4 3M368.7 557.1l-1.8 0.6M517.8 748.3l-0.5 0.2M455.9 225.8l-0.9 0.3M471.5 289.6l-0 0.4M645.4 236.2l0.6 2.6M649.4 385.1l-2.9 0.6M746.2 385.6l-0.3 0.1M589.4 645.7l-0.7 1.4M597.9 670.2l-0.6 2.7M567.9 292.9l-2.1 0.6M661.9 679l-0.2 0.4M720.9 565.1l-0.6 1.7M461.4 815l-1.3 0.3M703.7 727.8l1.2 0.8M416.5 261.8l1.6 0.2M544.9 745.4l1.4 1.2M610 452.1l-1.8 1.1M797.4 565.6l2.3 2.2M526.2 564.7l0.2 0.5M268.3 495.5l-1.7 0.1M758.8 442.8l0.6 2.2M618.4 805.6l-0.8 0.3M350.1 557.5l-2.2 0.5M779.4 447.3l-0.9 2.1M536.7 769.7l2.2 1.8M500.6 197.2l1.2 0.6M408.8 249l2.3 1.5M592.4 635.6l-1.3 1.2M700 633.2l0.3 1.7M840.4 492.6l1.2 1.4M688 516.4l0.3 0.2M410.1 605.9l-2.5 1.1M350.5 273.7l-3.1 0.5M413.9 626.1l-3.1 0.1M540.9 704.3l2.6 0.6M627.6 824.5l-0.9 2.4M696.2 345.5l-0.6 0.8M560.5 352.1l-1 1.8M256.3 580.3l-1.8 1.2M321.7 285.4l0 0.5M441.1 214.3l-0.6 0.5M754.5 700.2l-0.2 0.7M697.7 528l-2.7 0.7M547.2 833.6l3 0.7M372.8 743.7l-1.8 0.1M371.2 734.3l0.7 2.3M767.6 594.8l3.1 0.5M542.5 532.7l-1.6 1.7M509.8 616.5l-1.7 0.4M626.2 639.9l1.1 0.6M824.9 358.1l-0.2 0.3M688.7 641.6l1.7 2.1M542.5 545.6l2.3 1.3M249.5 358.7l-2.2 1.5M420.7 249.2l-0.7 0.3M482.8 583.1l-2.2 2M709.6 478.9l2.2 0.5M431.3 728.1l2.8 0.8M584.1 746.1l1.9 1M603.7 386.1l0.4 1.9M608.9 540.6l1.2 1.7M567.2 815.6l-2.8 0.6M494.7 518.9l-0.7 1.4M856.5 580l0.6 2.8M466.7 324l1.2 0.4M597.8 527.3l2.8 1.5"/>
<g>
<circle cx="73.1" cy="510.2" r="25.4" fill="#89d0f3"/>
<circle cx="78.2" cy="440.9" r="25.4" fill="#89d0f3"/>
<circle cx="93.7" cy="373.1" r="25.4" fill="#89d0f3"/>
<circle cx="119.1" cy="308.3" r="25.4" fill="#89d0f3"/>
<circle cx="153.9" cy="248.1" r="25.4" fill="#89d0f3"/>
<circle cx="197.3" cy="193.7" r="25.4" fill="#89d0f3"/>
<circle cx="248.2" cy="146.4" r="25.4" fill="#89d0f3"/>
<circle cx="305.7" cy="107.2" r="25.4" fill="#89d0f3"/>
<circle cx="368.4" cy="77.1" r="25.4" fill="#89d0f3"/>
<circle cx="434.8" cy="56.6" r="25.4" fill="#89d0f3"/>
<circle cx="503.6" cy="46.2" r="25.4" fill="#89d0f3"/>
<circle cx="573.1" cy="46.2" r="25.4" fill="#89d0f3"/>
<circle cx="641.9" cy="56.6" r="25.4" fill="#89d0f3"/>
<circle cx="708.3" cy="77.1" r="25.4" fill="#89d0f3"/>
<circle cx="771" cy="107.2" r="25.4" fill="#89d0f3"/>
<circle cx="828.5" cy="146.4" r="25.4" fill="#89d0f3"/>
<circle cx="879.4" cy="193.7" r="25.4" fill="#89d0f3"/>
<circle cx="922.8" cy="248.1" r="25.4" fill="#89d0f3"/>
<circle cx="957.6" cy="308.3" r="25.4" fill="#89d0f3"/>
<circle cx="983" cy="373.1" r="25.4" fill="#89d0f3"/>
<circle cx="998.5" cy="440.9" r="25.4" fill="#89d0f3"/>
<circle cx="1003.7" cy="510.2" r="25.4" fill="#89d0f3"/>
<circle cx="998.5" cy="579.5" r="25.4" fill="#89d0f3"/>
<circle cx="983" cy="647.3" r="25.4" fill="#89d0f3"/>
<circle cx="957.6" cy="712.1" r="25.4" fill="#89d0f3"/>
<circle cx="922.8" cy="772.3" r="25.4" fill="#89d0f3"/>
<circle cx="879.4" cy="826.7" r="25.4" fill="#89d0f3"/>
<circle cx="828.5" cy="874" r="25.4" fill="#89d0f3"/>
<circle cx="771" cy="913.2" r="25.4" fill="#89d0f3"/>
<circle cx="708.3" cy="943.3" r="25.4" fill="#89d0f3"/>
<circle cx="641.9" cy="963.8" r="25.4" fill="#89d0f3"/>
<circle cx="573.1" cy="974.2" r="25.4" fill="#89d0f3"/>
<circle cx="503.6" cy="974.2" r="25.4" fill="#89d0f3"/>
<circle cx="434.8" cy="963.8" r="25.4" fill="#89d0f3"/>
<circle cx="368.4" cy="943.3" r="25.4" fill="#89d0f3"/>
<circle cx="305.7" cy="913.2" r="25.4" fill="#89d0f3"/>
<circle cx="248.2" cy="874" r="25.4" fill="#89d0f3"/>
<circle cx="197.3" cy="826.7" r="25.4" fill="#89d0f3"/>
<circle cx="153.9" cy="772.3" r="25.4" fill="#89d0f3"/>
<circle cx="119.1" cy="712.1" r="25.4" fill="#89d0f3"/>
<circle cx="93.7" cy="647.3" r="25.4" fill="#89d0f3"/>
<circle cx="78.2" cy="579.5" r="25.4" fill="#89d0f3"/>
<circle cx="908.4" cy="511.3" r="25.4" fill="#89d0f3"/>
<circle cx="901.9" cy="580.5" r="25.4" fill="#89d0f3"/>
<circle cx="882.4" cy="647.3" r="25.4" fill="#89d0f3"/>
<circle cx="850.7" cy="709.1" r="25.4" fill="#89d0f3"/>
<circle cx="807.8" cy="763.9" r="25.4" fill="#89d0f3"/>
<circle cx="755.3" cy="809.5" r="25.4" fill="#89d0f3"/>
<circle cx="695.1" cy="844.4" r="25.4" fill="#89d0f3"/>
<circle cx="629.5" cy="867.2" r="25.4" fill="#89d0f3"/>
<circle cx="560.6" cy="877.3" r="25.4" fill="#89d0f3"/>
<circle cx="491.2" cy="874.1" r="25.4" fill="#89d0f3"/>
<circle cx="423.6" cy="857.8" r="25.4" fill="#89d0f3"/>
<circle cx="360.3" cy="829" r="25.4" fill="#89d0f3"/>
<circle cx="303.5" cy="788.8" r="25.4" fill="#89d0f3"/>
<circle cx="255.5" cy="738.5" r="25.4" fill="#89d0f3"/>
<circle cx="217.8" cy="680.1" r="25.4" fill="#89d0f3"/>
<circle cx="191.8" cy="615.6" r="25.4" fill="#89d0f3"/>
<circle cx="178.5" cy="547.3" r="25.4" fill="#89d0f3"/>
<circle cx="178.4" cy="477.8" r="25.4" fill="#89d0f3"/>
<circle cx="191.4" cy="409.5" r="25.4" fill="#89d0f3"/>
<circle cx="217.2" cy="344.8" r="25.4" fill="#89d0f3"/>
<circle cx="254.7" cy="286.3" r="25.4" fill="#89d0f3"/>
<circle cx="302.6" cy="235.9" r="25.4" fill="#89d0f3"/>
<circle cx="359.1" cy="195.4" r="25.4" fill="#89d0f3"/>
<circle cx="422.4" cy="166.4" r="25.4" fill="#89d0f3"/>
<circle cx="489.9" cy="149.9" r="25.4" fill="#89d0f3"/>
<circle cx="559.4" cy="146.5" r="25.4" fill="#89d0f3"/>
<circle cx="628.2" cy="156.3" r="25.4" fill="#89d0f3"/>
<circle cx="694" cy="178.9" r="25.4" fill="#89d0f3"/>
<circle cx="754.3" cy="213.6" r="25.4" fill="#89d0f3"/>
<circle cx="806.9" cy="259" r="25.4" fill="#89d0f3"/>
<circle cx="850" cy="313.6" r="25.4" fill="#89d0f3"/>
<circle cx="882" cy="375.4" r="25.4" fill="#89d0f3"/>
<circle cx="901.7" cy="442" r="25.4" fill="#89d0f3"/>
<circle cx="809.6" cy="507" r="25.4" fill="#89d0f3"/>
<circle cx="800.5" cy="575.9" r="25.4" fill="#89d0f3"/>
<circle cx="773.9" cy="640" r="25.4" fill="#89d0f3"/>
<circle cx="731.7" cy="695.2" r="25.4" fill="#89d0f3"/>
<circle cx="676.6" cy="737.4" r="25.4" fill="#89d0f3"/>
<circle cx="612.4" cy="764" r="25.4" fill="#89d0f3"/>
<circle cx="543.5" cy="773.1" r="25.4" fill="#89d0f3"/>
<circle cx="474.6" cy="764" r="25.4" fill="#89d0f3"/>
<circle cx="410.5" cy="737.4" r="25.4" fill="#89d0f3"/>
<circle cx="355.3" cy="695.2" r="25.4" fill="#89d0f3"/>
<circle cx="313.1" cy="640" r="25.4" fill="#89d0f3"/>
<circle cx="286.5" cy="575.9" r="25.4" fill="#89d0f3"/>
<circle cx="277.4" cy="507" r="25.4" fill="#89d0f3"/>
<circle cx="286.5" cy="438.1" r="25.4" fill="#89d0f3"/>
<circle cx="313.1" cy="373.9" r="25.4" fill="#89d0f3"/>
<circle cx="355.3" cy="318.8" r="25.4" fill="#89d0f3"/>
<circle cx="410.4" cy="276.6" r="25.4" fill="#89d0f3"/>
<circle cx="474.6" cy="250" r="25.4" fill="#89d0f3"/>
<circle cx="543.5" cy="240.9" r="25.4" fill="#89d0f3"/>
<circle cx="612.4" cy="250" r="25.4" fill="#89d0f3"/>
<circle cx="676.6" cy="276.6" r="25.4" fill="#89d0f3"/>
<circle cx="731.7" cy="318.8" r="25.4" fill="#89d0f3"/>
<circle cx="773.9" cy="373.9" r="25.4" fill="#89d0f3"/>
<circle cx="800.5" cy="438.1" r="25.4" fill="#89d0f3"/>
<circle cx="357.2" cy="439.5" r="25.4" fill="#89d0f3"/>
<circle cx="343.5" cy="513" r="25.4" fill="#89d0f3"/>
<circle cx="746.3" cy="511" r="25.4" fill="#89d0f3"/>
<circle cx="742.4" cy="440.5" r="25.4" fill="#89d0f3"/>
<circle cx="459.5" cy="324.5" r="25.4" fill="#89d0f3"/>
<circle cx="548.2" cy="310" r="25.4" fill="#89d0f3"/>
<circle cx="630.3" cy="327" r="25.4" fill="#89d0f3"/>
<circle cx="406.7" cy="378" r="25.4" fill="#89d0f3"/>
<circle cx="482" cy="378" r="25.4" fill="#89d0f3"/>
<circle cx="549.5" cy="378" r="25.4" fill="#89d0f3"/>
<circle cx="617.3" cy="378" r="25.4" fill="#89d0f3"/>
<circle cx="684.3" cy="378" r="25.4" fill="#89d0f3"/>
<circle cx="414.4" cy="445" r="25.4" fill="#89d0f3"/>
<circle cx="482" cy="445" r="25.4" fill="#89d0f3"/>
<circle cx="549.5" cy="445" r="25.4" fill="#89d0f3"/>
<circle cx="617.3" cy="445" r="25.4" fill="#89d0f3"/>
<circle cx="684.3" cy="445" r="25.4" fill="#89d0f3"/>
<circle cx="414.4" cy="512.5" r="25.4" fill="#89d0f3"/>
<circle cx="482" cy="512.5" r="25.4" fill="#89d0f3"/>
<circle cx="549.5" cy="512.5" r="25.4" fill="#89d0f3"/>
<circle cx="617.3" cy="512.5" r="25.4" fill="#89d0f3"/>
<circle cx="684.3" cy="512.5" r="25.4" fill="#89d0f3"/>
<circle cx="414.4" cy="580" r="25.4" fill="#89d0f3"/>
<circle cx="482" cy="580" r="25.4" fill="#89d0f3"/>
<circle cx="549.5" cy="580" r="25.4" fill="#89d0f3"/>
<circle cx="617.3" cy="580" r="25.4" fill="#89d0f3"/>
<circle cx="684.3" cy="580" r="25.4" fill="#89d0f3"/>
<circle cx="414.4" cy="647" r="25.4" fill="#89d0f3"/>
<circle cx="482" cy="647" r="25.4" fill="#89d0f3"/>
<circle cx="549.5" cy="647" r="25.4" fill="#89d0f3"/>
<circle cx="617.3" cy="647" r="25.4" fill="#89d0f3"/>
<circle cx="684.3" cy="647" r="25.4" fill="#89d0f3"/>
</g><g class="la" text-anchor="middle" transform="scale(0.87 1)">
<text x="84" y="516.4">EGF</text>
<text x="89.9" y="447.1">JAK1</text>
<text x="107.7" y="379.3">MAPK14</text>
<text x="136.9" y="314.5">CRP</text>
<text x="176.9" y="254.3">FOS</text>
<text x="226.7" y="199.9">CDKN2A</text>
<text x="285.3" y="152.6">HNF4A</text>
<text x="351.4" y="113.4">MTOR</text>
<text x="423.4" y="83.3">HIF1A</text>
<text x="499.8" y="62.8">IL1A</text>
<text x="578.8" y="52.4">CCR5</text>
<text x="658.8" y="52.4">CXCL10</text>
<text x="737.8" y="62.8">MMP3</text>
<text x="814.2" y="83.3">TLR9</text>
<text x="886.2" y="113.4">PRF1</text>
<text x="952.3" y="152.6">IL10</text>
<text x="1010.8" y="199.9">IL6</text>
<text x="1060.7" y="254.3">CASP8</text>
<text x="1100.7" y="314.5">SOD1</text>
<text x="1129.9" y="379.3">BCL2</text>
<text x="1147.6" y="447.1">TP53</text>
<text x="1153.6" y="516.4">DNMT1</text>
<text x="1147.6" y="585.7">IL2</text>
<text x="1129.9" y="653.5">AKT1</text>
<text x="1100.7" y="718.3">TERT</text>
<text x="1060.7" y="778.5">MAPK3</text>
<text x="1010.8" y="832.9">MAPK8</text>
<text x="952.3" y="880.2">IGFBP3</text>
<text x="886.2" y="919.4">IGF2</text>
<text x="814.2" y="949.5">ERBB2</text>
<text x="737.8" y="970">PTGS2</text>
<text x="658.8" y="980.4">CXCL2</text>
<text x="578.8" y="980.4">IL1B</text>
<text x="499.8" y="970">HMOX1</text>
<text x="423.4" y="949.5">CASP3</text>
<text x="351.4" y="919.4">PRKCD</text>
<text x="285.3" y="880.2">IFNG</text>
<text x="226.7" y="832.9">ARG1</text>
<text x="176.9" y="778.5">TNF</text>
<text x="136.9" y="718.3">MYC</text>
<text x="107.7" y="653.5">NFE2L2</text>
<text x="89.9" y="585.7">VEGFA</text>
<text x="1044.1" y="517.5">TGFBR1</text>
<text x="1036.7" y="586.7">ITGB1</text>
<text x="1014.3" y="653.5">KDR</text>
<text x="977.8" y="715.3">JAK2</text>
<text x="928.5" y="770.1">AGTR1</text>
<text x="868.2" y="815.7">SERPINE1</text>
<text x="799" y="850.6">MMP9</text>
<text x="723.5" y="873.4">MMP1</text>
<text x="644.4" y="883.5">COL1A1</text>
<text x="564.6" y="880.3">MMP2</text>
<text x="486.9" y="864">PLAU</text>
<text x="414.1" y="835.2">PLG</text>
<text x="348.9" y="795">THBD</text>
<text x="293.6" y="744.7">MAPK1</text>
<text x="250.3" y="686.3">PPARG</text>
<text x="220.5" y="621.8">DPP4</text>
<text x="205.2" y="553.5">ACE</text>
<text x="205.1" y="484">NOS3</text>
<text x="220" y="415.7">CD40LG</text>
<text x="249.6" y="351">MET</text>
<text x="292.7" y="292.5">PIK3CA</text>
<text x="347.8" y="242.1">ICAM1</text>
<text x="412.8" y="201.6">CCL2</text>
<text x="485.5" y="172.6">CXCR1</text>
<text x="563.1" y="156.1">MIF</text>
<text x="643" y="152.7">CXCL8</text>
<text x="722.1" y="162.5">MPO</text>
<text x="797.7" y="185.1">ELANE</text>
<text x="867" y="219.8">PRSS1</text>
<text x="927.5" y="265.2">MMP7</text>
<text x="977" y="319.8">F3</text>
<text x="1013.7" y="381.6">F2</text>
<text x="1036.4" y="448.2">TGFB1</text>
<text x="930.6" y="513.2">HMGCR</text>
<text x="920.2" y="582.1">MDM2</text>
<text x="889.6" y="646.2">EP300</text>
<text x="841" y="701.4">SRC</text>
<text x="777.6" y="743.6">ESR1</text>
<text x="703.9" y="770.2">STAT1</text>
<text x="624.7" y="779.3">CCND1</text>
<text x="545.5" y="770.2">HSP90AA1</text>
<text x="471.8" y="743.6">CAV1</text>
<text x="408.4" y="701.4">FASN</text>
<text x="359.8" y="646.2">SCD</text>
<text x="329.3" y="582.1">NOS2</text>
<text x="318.9" y="513.2">STAT3</text>
<text x="329.3" y="444.3">SHH</text>
<text x="359.8" y="380.1">CTNNB1</text>
<text x="408.4" y="325">LGALS3</text>
<text x="471.8" y="282.8">BRAF</text>
<text x="545.5" y="256.2">HRAS</text>
<text x="624.7" y="247.1">EGFR</text>
<text x="703.9" y="256.2">HSPB1</text>
<text x="777.6" y="282.8">HSPA5</text>
<text x="841" y="325">CPT1A</text>
<text x="889.6" y="380.1">JUN</text>
<text x="920.2" y="444.3">PPARA</text>
<text x="410.6" y="445.7">CYP2C19</text>
<text x="394.8" y="519.2">ADH1C</text>
<text x="857.8" y="517.2">PSMB8</text>
<text x="853.3" y="446.7">FBP1</text>
<text x="528.2" y="330.7">PTEN</text>
<text x="630.1" y="316.2">TTR</text>
<text x="724.5" y="333.2">INSR</text>
<text x="467.5" y="384.2">ALDH2</text>
<text x="554" y="384.2">CDKN1A</text>
<text x="631.6" y="384.2">CYP1A2</text>
<text x="709.5" y="384.2">FLT1</text>
<text x="786.6" y="384.2">GSTM1</text>
<text x="476.3" y="451.2">CYP2D6</text>
<text x="554" y="451.2">CYP3A4</text>
<text x="631.6" y="451.2">NR1I3</text>
<text x="709.5" y="451.2">ALPL</text>
<text x="786.6" y="451.2">NR1H3</text>
<text x="476.3" y="518.7">ATP12A</text>
<text x="554" y="518.7">CYP1A1</text>
<text x="631.6" y="518.7">SPP1</text>
<text x="709.5" y="518.7">EPHX1</text>
<text x="786.6" y="518.7">RXRA</text>
<text x="476.3" y="586.2">NR1H2</text>
<text x="554" y="586.2">ABCB1</text>
<text x="631.6" y="586.2">ADA</text>
<text x="709.5" y="586.2">GSTP1</text>
<text x="786.6" y="586.2">ALOX5</text>
<text x="476.3" y="653.2">NR1I2</text>
<text x="554" y="653.2">ACACA</text>
<text x="631.6" y="653.2">AKR1A1</text>
<text x="709.5" y="653.2">ADRB2</text>
<text x="786.6" y="653.2">GUSB</text>
</g>
<path fill="none" stroke="#1a1a1a" stroke-width="1.5" d="M1175.4 144L1364 62M1175.4 144L1455 116M1175.4 144L1298 155.4M1175.4 144L1579 179M1175.4 144L1435 228M1175.4 144L1331.6 278M1175.4 144L1224 315M1364 62L1455 116M1364 62L1298 155.4M1364 62L1579 179M1364 62L1435 228M1364 62L1331.6 278M1364 62L1224 315M1364 62L1380 371.4M1455 116L1298 155.4M1455 116L1579 179M1455 116L1435 228M1455 116L1331.6 278M1455 116L1224 315M1455 116L1515 330.7M1455 116L1380 371.4M1298 155.4L1579 179M1298 155.4L1435 228M1298 155.4L1331.6 278M1298 155.4L1224 315M1298 155.4L1515 330.7M1298 155.4L1380 371.4M1579 179L1435 228M1579 179L1331.6 278M1579 179L1224 315M1579 179L1515 330.7M1579 179L1380 371.4M1435 228L1331.6 278M1435 228L1224 315M1435 228L1515 330.7M1435 228L1380 371.4M1331.6 278L1224 315M1331.6 278L1515 330.7M1331.6 278L1380 371.4M1224 315L1515 330.7M1224 315L1380 371.4M1515 330.7L1380 371.4"/>
<circle cx="1175.4" cy="144" r="34.5" fill="#fddc17"/>
<circle cx="1364" cy="62" r="34.5" fill="#f7891c"/>
<circle cx="1455" cy="116" r="34.5" fill="#f86d1b"/>
<circle cx="1298" cy="155.4" r="34.5" fill="#f8a11a"/>
<circle cx="1579" cy="179" r="34.5" fill="#f2301b"/>
<circle cx="1435" cy="228" r="34.5" fill="#f00f17"/>
<circle cx="1331.6" cy="278" r="34.5" fill="#f0321d"/>
<circle cx="1224" cy="315" r="34.5" fill="#fdbe17"/>
<circle cx="1515" cy="330.7" r="34.5" fill="#f86a1c"/>
<circle cx="1380" cy="371.4" r="34.5" fill="#f4501c"/>
<g class="lb" text-anchor="middle">
<text x="1175.4" y="150.5">SRC</text>
<text x="1364" y="68.5">EGFR</text>
<text x="1455" y="122.5">JUN</text>
<text x="1298" y="161.9">VEGFA</text>
<text x="1579" y="185.5">TNF</text>
<text x="1435" y="234.5">STAT3</text>
<text x="1331.6" y="284.5">AKT1</text>
<text x="1224" y="321.5">HSP90AA1</text>
<text x="1515" y="337.2">IL6</text>
<text x="1380" y="377.9">TP53</text>
</g>
<path fill="none" stroke="#828282" stroke-width="3.1" d="M1357 472L1484.4 486.5M1357 472L1227.6 517M1357 472L1436.4 584.6M1357 472L1564 575.4M1357 472L1711.4 569.7M1357 472L1315 610.5M1357 472L1175 643M1357 472L1460 661M1357 472L1612 674.5M1357 472L1368.6 705.7M1357 472L1521 715M1357 472L1731.6 716.4M1357 472L1246 735.4M1357 472L1373.5 797M1357 472L1460 800M1357 472L1609.7 797M1357 472L1251 839M1357 472L1518 861M1357 472L1712.6 863.8M1357 472L1351.4 909.5M1357 472L1448.6 955M1357 472L1604.8 955M1484.4 486.5L1227.6 517M1484.4 486.5L1436.4 584.6M1484.4 486.5L1564 575.4M1484.4 486.5L1711.4 569.7M1484.4 486.5L1315 610.5M1484.4 486.5L1175 643M1484.4 486.5L1460 661M1484.4 486.5L1612 674.5M1484.4 486.5L1368.6 705.7M1484.4 486.5L1521 715M1484.4 486.5L1731.6 716.4M1484.4 486.5L1246 735.4M1484.4 486.5L1373.5 797M1484.4 486.5L1460 800M1484.4 486.5L1609.7 797M1484.4 486.5L1251 839M1484.4 486.5L1518 861M1484.4 486.5L1712.6 863.8M1484.4 486.5L1351.4 909.5M1484.4 486.5L1448.6 955M1484.4 486.5L1604.8 955M1227.6 517L1436.4 584.6M1227.6 517L1564 575.4M1227.6 517L1711.4 569.7M1227.6 517L1315 610.5M1227.6 517L1175 643M1227.6 517L1460 661M1227.6 517L1612 674.5M1227.6 517L1368.6 705.7M1227.6 517L1521 715M1227.6 517L1731.6 716.4M1227.6 517L1246 735.4M1227.6 517L1373.5 797M1227.6 517L1460 800M1227.6 517L1609.7 797M1227.6 517L1251 839M1227.6 517L1518 861M1227.6 517L1712.6 863.8M1227.6 517L1351.4 909.5M1227.6 517L1448.6 955M1227.6 517L1604.8 955M1436.4 584.6L1564 575.4M1436.4 584.6L1711.4 569.7M1436.4 584.6L1315 610.5M1436.4 584.6L1175 643M1436.4 584.6L1460 661M1436.4 584.6L1612 674.5M1436.4 584.6L1368.6 705.7M1436.4 584.6L1521 715M1436.4 584.6L1731.6 716.4M1436.4 584.6L1246 735.4M1436.4 584.6L1373.5 797M1436.4 584.6L1460 800M1436.4 584.6L1609.7 797M1436.4 584.6L1251 839M1436.4 584.6L1518 861M1436.4 584.6L1712.6 863.8M1436.4 584.6L1351.4 909.5M1436.4 584.6L1448.6 955M1436.4 584.6L1604.8 955M1564 575.4L1711.4 569.7M1564 575.4L1315 610.5M1564 575.4L1175 643M1564 575.4L1460 661M1564 575.4L1612 674.5M1564 575.4L1368.6 705.7M1564 575.4L1521 715M1564 575.4L1731.6 716.4M1564 575.4L1246 735.4M1564 575.4L1373.5 797M1564 575.4L1460 800M1564 575.4L1609.7 797M1564 575.4L1251 839M1564 575.4L1518 861M1564 575.4L1712.6 863.8M1564 575.4L1351.4 909.5M1564 575.4L1448.6 955M1564 575.4L1604.8 955M1711.4 569.7L1315 610.5M1711.4 569.7L1175 643M1711.4 569.7L1460 661M1711.4 569.7L1612 674.5M1711.4 569.7L1368.6 705.7M1711.4 569.7L1521 715M1711.4 569.7L1731.6 716.4M1711.4 569.7L1246 735.4M1711.4 569.7L1373.5 797M1711.4 569.7L1460 800M1711.4 569.7L1609.7 797M1711.4 569.7L1251 839M1711.4 569.7L1518 861M1711.4 569.7L1712.6 863.8M1711.4 569.7L1351.4 909.5M1711.4 569.7L1448.6 955M1711.4 569.7L1604.8 955M1315 610.5L1175 643M1315 610.5L1460 661M1315 610.5L1612 674.5M1315 610.5L1368.6 705.7M1315 610.5L1521 715M1315 610.5L1731.6 716.4M1315 610.5L1246 735.4M1315 610.5L1373.5 797M1315 610.5L1460 800M1315 610.5L1609.7 797M1315 610.5L1251 839M1315 610.5L1518 861M1315 610.5L1712.6 863.8M1315 610.5L1351.4 909.5M1315 610.5L1448.6 955M1315 610.5L1604.8 955M1175 643L1460 661M1175 643L1612 674.5M1175 643L1368.6 705.7M1175 643L1521 715M1175 643L1731.6 716.4M1175 643L1246 735.4M1175 643L1373.5 797M1175 643L1460 800M1175 643L1609.7 797M1175 643L1251 839M1175 643L1518 861M1175 643L1712.6 863.8M1175 643L1351.4 909.5M1175 643L1448.6 955M1175 643L1604.8 955M1460 661L1612 674.5M1460 661L1368.6 705.7M1460 661L1521 715M1460 661L1731.6 716.4M1460 661L1246 735.4M1460 661L1373.5 797M1460 661L1460 800M1460 661L1609.7 797M1460 661L1251 839M1460 661L1518 861M1460 661L1712.6 863.8M1460 661L1351.4 909.5M1460 661L1448.6 955M1460 661L1604.8 955M1612 674.5L1368.6 705.7M1612 674.5L1521 715M1612 674.5L1731.6 716.4M1612 674.5L1246 735.4M1612 674.5L1373.5 797M1612 674.5L1460 800M1612 674.5L1609.7 797M1612 674.5L1251 839M1612 674.5L1518 861M1612 674.5L1712.6 863.8M1612 674.5L1351.4 909.5M1612 674.5L1448.6 955M1612 674.5L1604.8 955M1368.6 705.7L1521 715M1368.6 705.7L1731.6 716.4M1368.6 705.7L1246 735.4M1368.6 705.7L1373.5 797M1368.6 705.7L1460 800M1368.6 705.7L1609.7 797M1368.6 705.7L1251 839M1368.6 705.7L1518 861M1368.6 705.7L1712.6 863.8M1368.6 705.7L1351.4 909.5M1368.6 705.7L1448.6 955M1368.6 705.7L1604.8 955M1521 715L1731.6 716.4M1521 715L1246 735.4M1521 715L1373.5 797M1521 715L1460 800M1521 715L1609.7 797M1521 715L1251 839M1521 715L1518 861M1521 715L1712.6 863.8M1521 715L1351.4 909.5M1521 715L1448.6 955M1521 715L1604.8 955M1731.6 716.4L1246 735.4M1731.6 716.4L1373.5 797M1731.6 716.4L1460 800M1731.6 716.4L1609.7 797M1731.6 716.4L1251 839M1731.6 716.4L1518 861M1731.6 716.4L1712.6 863.8M1731.6 716.4L1351.4 909.5M1731.6 716.4L1448.6 955M1731.6 716.4L1604.8 955M1246 735.4L1373.5 797M1246 735.4L1460 800M1246 735.4L1609.7 797M1246 735.4L1251 839M1246 735.4L1518 861M1246 735.4L1712.6 863.8M1246 735.4L1351.4 909.5M1246 735.4L1448.6 955M1246 735.4L1604.8 955M1373.5 797L1460 800M1373.5 797L1609.7 797M1373.5 797L1251 839M1373.5 797L1518 861M1373.5 797L1712.6 863.8M1373.5 797L1351.4 909.5M1373.5 797L1448.6 955M1373.5 797L1604.8 955M1460 800L1609.7 797M1460 800L1251 839M1460 800L1518 861M1460 800L1712.6 863.8M1460 800L1351.4 909.5M1460 800L1448.6 955M1460 800L1604.8 955M1609.7 797L1251 839M1609.7 797L1518 861M1609.7 797L1712.6 863.8M1609.7 797L1351.4 909.5M1609.7 797L1448.6 955M1609.7 797L1604.8 955M1251 839L1518 861M1251 839L1712.6 863.8M1251 839L1351.4 909.5M1251 839L1448.6 955M1251 839L1604.8 955M1518 861L1712.6 863.8M1518 861L1351.4 909.5M1518 861L1448.6 955M1518 861L1604.8 955M1712.6 863.8L1351.4 909.5M1712.6 863.8L1448.6 955M1712.6 863.8L1604.8 955M1351.4 909.5L1448.6 955M1351.4 909.5L1604.8 955M1448.6 955L1604.8 955"/>
<circle cx="1357" cy="472" r="30.5" fill="#89d0f3"/>
<circle cx="1484.4" cy="486.5" r="30.5" fill="#89d0f3"/>
<circle cx="1227.6" cy="517" r="30.5" fill="#89d0f3"/>
<circle cx="1436.4" cy="584.6" r="30.5" fill="#89d0f3"/>
<circle cx="1564" cy="575.4" r="30.5" fill="#89d0f3"/>
<circle cx="1711.4" cy="569.7" r="30.5" fill="#89d0f3"/>
<circle cx="1315" cy="610.5" r="30.5" fill="#89d0f3"/>
<circle cx="1175" cy="643" r="30.5" fill="#89d0f3"/>
<circle cx="1460" cy="661" r="30.5" fill="#89d0f3"/>
<circle cx="1612" cy="674.5" r="30.5" fill="#89d0f3"/>
<circle cx="1368.6" cy="705.7" r="30.5" fill="#89d0f3"/>
<circle cx="1521" cy="715" r="30.5" fill="#89d0f3"/>
<circle cx="1731.6" cy="716.4" r="30.5" fill="#89d0f3"/>
<circle cx="1246" cy="735.4" r="30.5" fill="#89d0f3"/>
<circle cx="1373.5" cy="797" r="30.5" fill="#89d0f3"/>
<circle cx="1460" cy="800" r="30.5" fill="#89d0f3"/>
<circle cx="1609.7" cy="797" r="30.5" fill="#89d0f3"/>
<circle cx="1251" cy="839" r="30.5" fill="#89d0f3"/>
<circle cx="1518" cy="861" r="30.5" fill="#89d0f3"/>
<circle cx="1712.6" cy="863.8" r="30.5" fill="#89d0f3"/>
<circle cx="1351.4" cy="909.5" r="30.5" fill="#89d0f3"/>
<circle cx="1448.6" cy="955" r="30.5" fill="#89d0f3"/>
<circle cx="1604.8" cy="955" r="30.5" fill="#89d0f3"/>
<g class="lc" text-anchor="middle">
<text x="1357" y="479.6">ERBB2</text>
<text x="1484.4" y="494.1">HSP90AA1</text>
<text x="1227.6" y="524.6">MTOR</text>
<text x="1436.4" y="592.2">STAT3</text>
<text x="1564" y="583">EGFR</text>
<text x="1711.4" y="577.3">MAPK8</text>
<text x="1315" y="618.1">PTEN</text>
<text x="1175" y="650.6">PIK3CA</text>
<text x="1460" y="668.6">HRAS</text>
<text x="1612" y="682.1">CTNNB1</text>
<text x="1368.6" y="713.3">MAPK3</text>
<text x="1521" y="722.6">MYC</text>
<text x="1731.6" y="724">MAPK1</text>
<text x="1246" y="743">EGF</text>
<text x="1373.5" y="804.6">ESR1</text>
<text x="1460" y="807.6">TP53</text>
<text x="1609.7" y="804.6">JUN</text>
<text x="1251" y="846.6">VEGFA</text>
<text x="1518" y="868.6">SRC</text>
<text x="1712.6" y="871.4">MAPK14</text>
<text x="1351.4" y="917.1">AKT1</text>
<text x="1448.6" y="962.6">CCND1</text>
<text x="1604.8" y="962.6">FOS</text>
</g>
<rect x="55" y="1060.5" width="1713" height="1020.5" fill="#fcf3f1"/>
<g class="dt" font-size="41.4">
<text x="157.72" y="1124" textLength="132.87" lengthAdjust="spacingAndGlyphs">Barplot</text>
<text x="303.66" y="1124" textLength="39.88" lengthAdjust="spacingAndGlyphs">of</text>
<text x="355.67" y="1124" textLength="60.54" lengthAdjust="spacingAndGlyphs">cell</text>
<text x="427.15" y="1124" textLength="142.53" lengthAdjust="spacingAndGlyphs">clusters</text>
<text x="580.70" y="1124" textLength="135.99" lengthAdjust="spacingAndGlyphs">(Y-axis)</text>
<text x="727.84" y="1124" textLength="72.38" lengthAdjust="spacingAndGlyphs">and</text>
<text x="811.09" y="1124" textLength="63.74" lengthAdjust="spacingAndGlyphs">cell</text>
<text x="884.77" y="1124" textLength="102.42" lengthAdjust="spacingAndGlyphs">types</text>
<text x="996.70" y="1124" textLength="139.19" lengthAdjust="spacingAndGlyphs">(X-axis)</text>
<text x="1147.09" y="1124" textLength="113.32" lengthAdjust="spacingAndGlyphs">where</text>
<text x="1271.36" y="1124" textLength="60.48" lengthAdjust="spacingAndGlyphs">the</text>
<text x="1343.95" y="1124" textLength="95.10" lengthAdjust="spacingAndGlyphs">gene</text>
<text x="1448.54" y="1124" textLength="29.52" lengthAdjust="spacingAndGlyphs">is</text>
<text x="1486.74" y="1124" textLength="200.17" lengthAdjust="spacingAndGlyphs">expressed.</text>
</g>
<path fill="none" stroke="#000" stroke-width="3.6" d="M231.3 1191V1818"/>
<path fill="none" stroke="#000" stroke-width="3.4" d="M231.3 1801.5H1666.5V1818"/>
<rect x="279.8" y="1191" width="23.9" height="612.2" fill="#4682b4"/>
<rect x="303.6" y="1529.6" width="23.9" height="273.6" fill="#4682b4"/>
<rect x="327.6" y="1563.9" width="23.9" height="239.3" fill="#4682b4"/>
<rect x="351.4" y="1611.3" width="23.9" height="191.9" fill="#4682b4"/>
<rect x="375.4" y="1629.6" width="23.9" height="173.6" fill="#4682b4"/>
<rect x="399.2" y="1643.7" width="23.9" height="159.5" fill="#4682b4"/>
<rect x="423.1" y="1657.3" width="23.9" height="145.9" fill="#4682b4"/>
<rect x="447" y="1660.1" width="23.9" height="143.1" fill="#4682b4"/>
<rect x="470.9" y="1680.8" width="23.9" height="122.4" fill="#4682b4"/>
<rect x="494.9" y="1697.9" width="23.9" height="105.3" fill="#4682b4"/>
<rect x="518.8" y="1710" width="23.9" height="93.2" fill="#4682b4"/>
<rect x="542.6" y="1715.6" width="23.9" height="87.6" fill="#4682b4"/>
<rect x="566.5" y="1734.8" width="23.9" height="68.4" fill="#4682b4"/>
<rect x="590.5" y="1741.2" width="23.9" height="62" fill="#4682b4"/>
<rect x="614.3" y="1749.8" width="23.9" height="53.4" fill="#4682b4"/>
<rect x="638.2" y="1749.8" width="23.9" height="53.4" fill="#4682b4"/>
<rect x="662.1" y="1757.8" width="23.9" height="45.4" fill="#4682b4"/>
<rect x="686" y="1759" width="23.9" height="44.2" fill="#4682b4"/>
<rect x="710" y="1768.6" width="23.9" height="34.6" fill="#4682b4"/>
<rect x="733.8" y="1772.2" width="23.9" height="31" fill="#4682b4"/>
<rect x="757.8" y="1772.4" width="23.9" height="30.8" fill="#4682b4"/>
<rect x="781.6" y="1773.7" width="23.9" height="29.5" fill="#4682b4"/>
<rect x="805.5" y="1774.3" width="23.9" height="28.9" fill="#4682b4"/>
<rect x="829.4" y="1774.3" width="23.9" height="28.9" fill="#4682b4"/>
<rect x="853.3" y="1778" width="23.9" height="25.2" fill="#4682b4"/>
<rect x="877.2" y="1778.8" width="23.9" height="24.4" fill="#4682b4"/>
<rect x="901.1" y="1778.8" width="23.9" height="24.4" fill="#4682b4"/>
<rect x="925" y="1780.2" width="23.9" height="23" fill="#4682b4"/>
<rect x="948.9" y="1782" width="23.9" height="21.2" fill="#4682b4"/>
<rect x="972.8" y="1786.5" width="23.9" height="16.7" fill="#4682b4"/>
<rect x="996.8" y="1786.5" width="23.9" height="16.7" fill="#4682b4"/>
<rect x="1020.6" y="1787" width="23.9" height="16.2" fill="#4682b4"/>
<rect x="1044.5" y="1790" width="23.9" height="13.2" fill="#4682b4"/>
<rect x="1068.4" y="1791" width="23.9" height="12.2" fill="#4682b4"/>
<rect x="1092.3" y="1791.8" width="23.9" height="11.4" fill="#4682b4"/>
<rect x="1116.2" y="1791.8" width="23.9" height="11.4" fill="#4682b4"/>
<rect x="1140.2" y="1791.8" width="23.9" height="11.4" fill="#4682b4"/>
<rect x="1164" y="1791.8" width="23.9" height="11.4" fill="#4682b4"/>
<rect x="1187.9" y="1793.6" width="23.9" height="9.6" fill="#4682b4"/>
<rect x="1211.8" y="1793.8" width="23.9" height="9.4" fill="#4682b4"/>
<rect x="1235.8" y="1795" width="23.9" height="8.2" fill="#4682b4"/>
<rect x="1259.7" y="1795.5" width="23.9" height="7.7" fill="#4682b4"/>
<rect x="1283.5" y="1796.6" width="23.9" height="6.6" fill="#4682b4"/>
<rect x="1307.5" y="1797" width="23.9" height="6.2" fill="#4682b4"/>
<rect x="1331.3" y="1797.9" width="23.9" height="5.3" fill="#4682b4"/>
<rect x="1355.2" y="1798.3" width="23.9" height="4.9" fill="#4682b4"/>
<rect x="1379.1" y="1798.5" width="23.9" height="4.7" fill="#4682b4"/>
<rect x="1403" y="1798.7" width="23.9" height="4.5" fill="#4682b4"/>
<rect x="1426.9" y="1798.9" width="23.9" height="4.3" fill="#4682b4"/>
<rect x="1450.8" y="1799.1" width="23.9" height="4.1" fill="#4682b4"/>
<rect x="1474.8" y="1799.2" width="23.9" height="4" fill="#4682b4"/>
<rect x="1498.6" y="1799.4" width="23.9" height="3.8" fill="#4682b4"/>
<rect x="1522.5" y="1799.8" width="23.9" height="3.4" fill="#4682b4"/>
<rect x="1546.4" y="1800" width="23.9" height="3.2" fill="#4682b4"/>
<rect x="1570.3" y="1800.3" width="23.9" height="2.9" fill="#4682b4"/>
<rect x="1594.2" y="1800.5" width="23.9" height="2.7" fill="#4682b4"/>
<path stroke="#8db3d4" stroke-width="1" d="M303.6 1803.2V1529.6M327.6 1803.2V1563.9M351.4 1803.2V1611.3M375.4 1803.2V1629.6M399.2 1803.2V1643.7M423.1 1803.2V1657.3M447 1803.2V1660.1M470.9 1803.2V1680.8M494.9 1803.2V1697.9M518.8 1803.2V1710M542.6 1803.2V1715.6M566.5 1803.2V1734.8M590.5 1803.2V1741.2M614.3 1803.2V1749.8M638.2 1803.2V1749.8M662.1 1803.2V1757.8M686 1803.2V1759M710 1803.2V1768.6M733.8 1803.2V1772.2M757.8 1803.2V1772.4M781.6 1803.2V1773.7M805.5 1803.2V1774.3M829.4 1803.2V1774.3M853.3 1803.2V1778M877.2 1803.2V1778.8M901.1 1803.2V1778.8M925 1803.2V1780.2M948.9 1803.2V1782M972.8 1803.2V1786.5M996.8 1803.2V1786.5M1020.6 1803.2V1787M1044.5 1803.2V1790M1068.4 1803.2V1791M1092.3 1803.2V1791.8M1116.2 1803.2V1791.8M1140.2 1803.2V1791.8M1164 1803.2V1791.8M1187.9 1803.2V1793.6M1211.8 1803.2V1793.8M1235.8 1803.2V1795M1259.7 1803.2V1795.5M1283.5 1803.2V1796.6M1307.5 1803.2V1797M1331.3 1803.2V1797.9M1355.2 1803.2V1798.3M1379.1 1803.2V1798.5M1403 1803.2V1798.7M1426.9 1803.2V1798.9M1450.8 1803.2V1799.1M1474.8 1803.2V1799.2M1498.6 1803.2V1799.4M1522.5 1803.2V1799.8M1546.4 1803.2V1800M1570.3 1803.2V1800.3M1594.2 1803.2V1800.5"/>
<path stroke="#000" stroke-width="2.1" d="M215 1801.5H231M215 1754.5H231M215 1707.6H231M215 1660.6H231M215 1613.7H231M215 1566.7H231M215 1472.8H231M215 1425.8H231M215 1378.8H231M215 1331.9H231M215 1284.9H231M215 1238H231"/>
<path stroke="#000" stroke-width="3.4" d="M215 1519.7H231M215 1191H231"/>
<g class="dt" font-size="29.5" text-anchor="end">
<text x="208.3" y="1811.8" textLength="16.3" lengthAdjust="spacingAndGlyphs">0</text>
<text x="208.3" y="1764.8" textLength="32.6" lengthAdjust="spacingAndGlyphs">50</text>
<text x="208.3" y="1717.9" textLength="48.9" lengthAdjust="spacingAndGlyphs">100</text>
<text x="208.3" y="1670.9" textLength="48.9" lengthAdjust="spacingAndGlyphs">150</text>
<text x="208.3" y="1624" textLength="48.9" lengthAdjust="spacingAndGlyphs">200</text>
<text x="208.3" y="1577" textLength="48.9" lengthAdjust="spacingAndGlyphs">250</text>
<text x="208.3" y="1530" textLength="48.9" lengthAdjust="spacingAndGlyphs">300</text>
<text x="208.3" y="1483.1" textLength="48.9" lengthAdjust="spacingAndGlyphs">350</text>
<text x="208.3" y="1436.1" textLength="48.9" lengthAdjust="spacingAndGlyphs">400</text>
<text x="208.3" y="1389.1" textLength="48.9" lengthAdjust="spacingAndGlyphs">450</text>
<text x="208.3" y="1342.2" textLength="48.9" lengthAdjust="spacingAndGlyphs">500</text>
<text x="208.3" y="1295.2" textLength="48.9" lengthAdjust="spacingAndGlyphs">550</text>
<text x="208.3" y="1248.3" textLength="48.9" lengthAdjust="spacingAndGlyphs">600</text>
<text x="208.3" y="1201.3" textLength="48.9" lengthAdjust="spacingAndGlyphs">650</text>
</g>
<path stroke="#000" stroke-width="2.1" d="M315.6 1803V1817.4M339.5 1803V1817.4M363.4 1803V1817.4M411.2 1803V1817.4M435.1 1803V1817.4M459 1803V1817.4M506.8 1803V1817.4M530.7 1803V1817.4M554.6 1803V1817.4M602.4 1803V1817.4M626.3 1803V1817.4M650.2 1803V1817.4M698 1803V1817.4M721.9 1803V1817.4M745.8 1803V1817.4M793.6 1803V1817.4M817.5 1803V1817.4M841.4 1803V1817.4M889.2 1803V1817.4M913.1 1803V1817.4M937 1803V1817.4M984.8 1803V1817.4M1008.7 1803V1817.4M1032.6 1803V1817.4M1080.4 1803V1817.4M1104.3 1803V1817.4M1128.2 1803V1817.4M1176 1803V1817.4M1199.9 1803V1817.4M1223.8 1803V1817.4M1271.6 1803V1817.4M1295.5 1803V1817.4M1319.4 1803V1817.4M1367.2 1803V1817.4M1391.1 1803V1817.4M1415 1803V1817.4M1462.8 1803V1817.4M1486.7 1803V1817.4M1510.6 1803V1817.4M1558.4 1803V1817.4M1582.3 1803V1817.4M1606.2 1803V1817.4"/>
<path stroke="#000" stroke-width="3.4" d="M291.7 1803V1817.4M387.3 1803V1817.4M482.9 1803V1817.4M578.5 1803V1817.4M674.1 1803V1817.4M769.7 1803V1817.4M865.3 1803V1817.4M960.9 1803V1817.4M1056.5 1803V1817.4M1152.1 1803V1817.4M1247.7 1803V1817.4M1343.3 1803V1817.4M1438.9 1803V1817.4M1534.5 1803V1817.4"/>
<g class="dt" font-size="28.6" text-anchor="end">
<text transform="translate(301.7 1823.6) rotate(-90)">Unknown</text>
<text transform="translate(325.6 1823.6) rotate(-90)">Basal cells</text>
<text transform="translate(349.5 1823.6) rotate(-90)">T cells</text>
<text transform="translate(373.4 1823.6) rotate(-90)">Dendritic cells</text>
<text transform="translate(397.3 1823.6) rotate(-90)">Germ cells</text>
<text transform="translate(421.2 1823.6) rotate(-90)">Fibroblasts</text>
<text transform="translate(445.1 1823.6) rotate(-90)">Cholangiocytes</text>
<text transform="translate(469 1823.6) rotate(-90)">EC</text>
<text transform="translate(492.9 1823.6) rotate(-90)">Erythroid-like .</text>
<text transform="translate(516.8 1823.6) rotate(-90)">Gamma delta T c.</text>
<text transform="translate(540.7 1823.6) rotate(-90)">NK cells</text>
<text transform="translate(564.6 1823.6) rotate(-90)">B cells</text>
<text transform="translate(588.5 1823.6) rotate(-90)">Epithelial cell.</text>
<text transform="translate(612.4 1823.6) rotate(-90)">Ductal cells</text>
<text transform="translate(636.3 1823.6) rotate(-90)">Peritubular myo.</text>
<text transform="translate(660.2 1823.6) rotate(-90)">Plasma cells</text>
<text transform="translate(684.1 1823.6) rotate(-90)">Smooth muscle c.</text>
<text transform="translate(708 1823.6) rotate(-90)">Langerhans cell.</text>
<text transform="translate(731.9 1823.6) rotate(-90)">Pancreatic stel.</text>
<text transform="translate(755.8 1823.6) rotate(-90)">Pulmonary alveo.</text>
<text transform="translate(779.7 1823.6) rotate(-90)">T memory cells</text>
<text transform="translate(803.6 1823.6) rotate(-90)">Beta cells</text>
<text transform="translate(827.5 1823.6) rotate(-90)">Goblet cells</text>
<text transform="translate(851.4 1823.6) rotate(-90)">Plasmacytoid de.</text>
<text transform="translate(875.3 1823.6) rotate(-90)">Spermatocytes</text>
<text transform="translate(899.2 1823.6) rotate(-90)">Luminal epithel.</text>
<text transform="translate(923.1 1823.6) rotate(-90)">Oligodendrocyte.</text>
<text transform="translate(947 1823.6) rotate(-90)">Alpha cells</text>
<text transform="translate(970.9 1823.6) rotate(-90)">Hepatocytes</text>
<text transform="translate(994.8 1823.6) rotate(-90)">Keratinocytes</text>
<text transform="translate(1018.7 1823.6) rotate(-90)">Monocytes</text>
<text transform="translate(1042.6 1823.6) rotate(-90)">Acinar cells</text>
<text transform="translate(1066.5 1823.6) rotate(-90)">Neutrophils</text>
<text transform="translate(1090.4 1823.6) rotate(-90)">Adipocytes</text>
<text transform="translate(1114.3 1823.6) rotate(-90)">Mast cells</text>
<text transform="translate(1138.2 1823.6) rotate(-90)">Enterocytes</text>
<text transform="translate(1162.1 1823.6) rotate(-90)">B cells naive</text>
<text transform="translate(1186 1823.6) rotate(-90)">Gamma (PP) cell.</text>
<text transform="translate(1209.9 1823.6) rotate(-90)">Enteric glia ce.</text>
<text transform="translate(1233.8 1823.6) rotate(-90)">Macrophages</text>
<text transform="translate(1257.7 1823.6) rotate(-90)">Ependymal cells</text>
<text transform="translate(1281.6 1823.6) rotate(-90)">Delta cells</text>
<text transform="translate(1305.5 1823.6) rotate(-90)">Neurons</text>
<text transform="translate(1329.4 1823.6) rotate(-90)">Pericytes</text>
<text transform="translate(1353.3 1823.6) rotate(-90)">Mesothelial cel.</text>
<text transform="translate(1377.2 1823.6) rotate(-90)">OPC</text>
<text transform="translate(1401.1 1823.6) rotate(-90)">Hepatic stellat.</text>
<text transform="translate(1425 1823.6) rotate(-90)">Myoepithelial c.</text>
<text transform="translate(1448.9 1823.6) rotate(-90)">Salivary mucous.</text>
<text transform="translate(1472.8 1823.6) rotate(-90)">Clara cells</text>
<text transform="translate(1496.7 1823.6) rotate(-90)">Leydig cells</text>
<text transform="translate(1520.6 1823.6) rotate(-90)">Astrocytes</text>
<text transform="translate(1544.5 1823.6) rotate(-90)">Mammary epithel.</text>
<text transform="translate(1568.4 1823.6) rotate(-90)">Loop of Henle c.</text>
<text transform="translate(1592.3 1823.6) rotate(-90)">Serotonergic ne.</text>
<text transform="translate(1616.2 1823.6) rotate(-90)">Enteroendocrine.</text>
</g>
<text class="dt" font-size="29.2" text-anchor="middle" transform="translate(145 1473.7) rotate(-90)">Number of annotated cell clusters</text>
</svg></body></html>
